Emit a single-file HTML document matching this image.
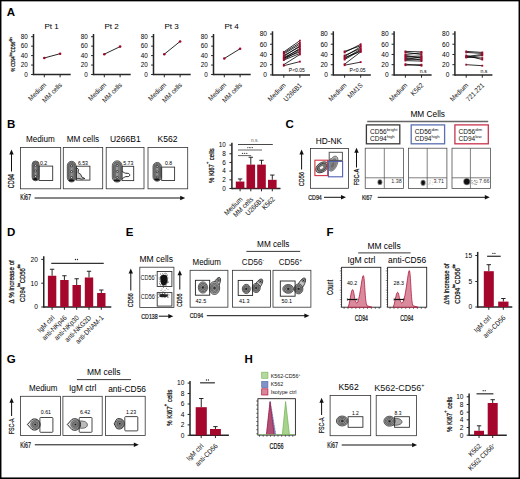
<!DOCTYPE html><html><head><meta charset="utf-8"><style>html,body{margin:0;padding:0;background:#fff;}svg{display:block;} .hv{stroke:#111;stroke-width:0.22px;} .md{stroke:#111;stroke-width:0.25px;}text{font-family:"Liberation Sans", sans-serif;}</style></head><body>
<svg width="520" height="479" viewBox="0 0 520 479">
<rect x="0" y="0" width="520" height="479" fill="#fff"/>
<text x="6.8" y="15.8" font-size="11.5" font-weight="bold" fill="#000">A</text>
<text x="51.6" y="29.1" font-size="8.1" text-anchor="middle">Pt 1</text>
<line x1="33.5" y1="34" x2="33.5" y2="75.25" stroke="#262626" stroke-width="1.5" />
<line x1="31.1" y1="36.7" x2="33.5" y2="36.7" stroke="#262626" stroke-width="1" />
<text x="27.8" y="39" font-size="6.4" text-anchor="end">80</text>
<line x1="31.1" y1="46.15" x2="33.5" y2="46.15" stroke="#262626" stroke-width="1" />
<text x="27.8" y="48.45" font-size="6.4" text-anchor="end">60</text>
<line x1="31.1" y1="55.6" x2="33.5" y2="55.6" stroke="#262626" stroke-width="1" />
<text x="27.8" y="57.9" font-size="6.4" text-anchor="end">40</text>
<line x1="31.1" y1="65.05" x2="33.5" y2="65.05" stroke="#262626" stroke-width="1" />
<text x="27.8" y="67.35" font-size="6.4" text-anchor="end">20</text>
<line x1="31.1" y1="74.5" x2="33.5" y2="74.5" stroke="#262626" stroke-width="1" />
<text x="27.8" y="76.8" font-size="6.4" text-anchor="end">0</text>
<line x1="33.5" y1="74.5" x2="70.7" y2="74.5" stroke="#262626" stroke-width="1.5" />
<line x1="44.3" y1="74.5" x2="44.3" y2="77.3" stroke="#262626" stroke-width="1" />
<line x1="60.1" y1="74.5" x2="60.1" y2="77.3" stroke="#262626" stroke-width="1" />
<line x1="44.3" y1="57.96" x2="60.1" y2="53.71" stroke="#111" stroke-width="0.9" />
<circle cx="44.3" cy="57.96" r="1.3" fill="#a5062b"/>
<circle cx="60.1" cy="53.71" r="1.3" fill="#a5062b"/>
<text transform="translate(46.7 85.5) rotate(-45) scale(0.9 1)" font-size="6.96" text-anchor="end" fill="#111">Medium</text>
<text transform="translate(62.5 85.5) rotate(-45) scale(0.9 1)" font-size="6.96" text-anchor="end" fill="#111">MM cells</text>
<text x="111.6" y="29.1" font-size="8.1" text-anchor="middle">Pt 2</text>
<line x1="93.5" y1="34" x2="93.5" y2="75.25" stroke="#262626" stroke-width="1.5" />
<line x1="91.1" y1="36.7" x2="93.5" y2="36.7" stroke="#262626" stroke-width="1" />
<text x="87.8" y="39" font-size="6.4" text-anchor="end">80</text>
<line x1="91.1" y1="46.15" x2="93.5" y2="46.15" stroke="#262626" stroke-width="1" />
<text x="87.8" y="48.45" font-size="6.4" text-anchor="end">60</text>
<line x1="91.1" y1="55.6" x2="93.5" y2="55.6" stroke="#262626" stroke-width="1" />
<text x="87.8" y="57.9" font-size="6.4" text-anchor="end">40</text>
<line x1="91.1" y1="65.05" x2="93.5" y2="65.05" stroke="#262626" stroke-width="1" />
<text x="87.8" y="67.35" font-size="6.4" text-anchor="end">20</text>
<line x1="91.1" y1="74.5" x2="93.5" y2="74.5" stroke="#262626" stroke-width="1" />
<text x="87.8" y="76.8" font-size="6.4" text-anchor="end">0</text>
<line x1="93.5" y1="74.5" x2="130.7" y2="74.5" stroke="#262626" stroke-width="1.5" />
<line x1="104.3" y1="74.5" x2="104.3" y2="77.3" stroke="#262626" stroke-width="1" />
<line x1="120.1" y1="74.5" x2="120.1" y2="77.3" stroke="#262626" stroke-width="1" />
<line x1="104.3" y1="54.18" x2="120.1" y2="46.62" stroke="#111" stroke-width="0.9" />
<circle cx="104.3" cy="54.18" r="1.3" fill="#a5062b"/>
<circle cx="120.1" cy="46.62" r="1.3" fill="#a5062b"/>
<text transform="translate(106.7 85.5) rotate(-45) scale(0.9 1)" font-size="6.96" text-anchor="end" fill="#111">Medium</text>
<text transform="translate(122.5 85.5) rotate(-45) scale(0.9 1)" font-size="6.96" text-anchor="end" fill="#111">MM cells</text>
<text x="171.6" y="29.1" font-size="8.1" text-anchor="middle">Pt 3</text>
<line x1="153.5" y1="34" x2="153.5" y2="75.25" stroke="#262626" stroke-width="1.5" />
<line x1="151.1" y1="36.7" x2="153.5" y2="36.7" stroke="#262626" stroke-width="1" />
<text x="147.8" y="39" font-size="6.4" text-anchor="end">80</text>
<line x1="151.1" y1="46.15" x2="153.5" y2="46.15" stroke="#262626" stroke-width="1" />
<text x="147.8" y="48.45" font-size="6.4" text-anchor="end">60</text>
<line x1="151.1" y1="55.6" x2="153.5" y2="55.6" stroke="#262626" stroke-width="1" />
<text x="147.8" y="57.9" font-size="6.4" text-anchor="end">40</text>
<line x1="151.1" y1="65.05" x2="153.5" y2="65.05" stroke="#262626" stroke-width="1" />
<text x="147.8" y="67.35" font-size="6.4" text-anchor="end">20</text>
<line x1="151.1" y1="74.5" x2="153.5" y2="74.5" stroke="#262626" stroke-width="1" />
<text x="147.8" y="76.8" font-size="6.4" text-anchor="end">0</text>
<line x1="153.5" y1="74.5" x2="190.7" y2="74.5" stroke="#262626" stroke-width="1.5" />
<line x1="164.3" y1="74.5" x2="164.3" y2="77.3" stroke="#262626" stroke-width="1" />
<line x1="180.1" y1="74.5" x2="180.1" y2="77.3" stroke="#262626" stroke-width="1" />
<line x1="164.3" y1="54.18" x2="180.1" y2="41.43" stroke="#111" stroke-width="0.9" />
<circle cx="164.3" cy="54.18" r="1.3" fill="#a5062b"/>
<circle cx="180.1" cy="41.43" r="1.3" fill="#a5062b"/>
<text transform="translate(166.7 85.5) rotate(-45) scale(0.9 1)" font-size="6.96" text-anchor="end" fill="#111">Medium</text>
<text transform="translate(182.5 85.5) rotate(-45) scale(0.9 1)" font-size="6.96" text-anchor="end" fill="#111">MM cells</text>
<text x="231.6" y="29.1" font-size="8.1" text-anchor="middle">Pt 4</text>
<line x1="213.5" y1="34" x2="213.5" y2="75.25" stroke="#262626" stroke-width="1.5" />
<line x1="211.1" y1="36.7" x2="213.5" y2="36.7" stroke="#262626" stroke-width="1" />
<text x="207.8" y="39" font-size="6.4" text-anchor="end">80</text>
<line x1="211.1" y1="46.15" x2="213.5" y2="46.15" stroke="#262626" stroke-width="1" />
<text x="207.8" y="48.45" font-size="6.4" text-anchor="end">60</text>
<line x1="211.1" y1="55.6" x2="213.5" y2="55.6" stroke="#262626" stroke-width="1" />
<text x="207.8" y="57.9" font-size="6.4" text-anchor="end">40</text>
<line x1="211.1" y1="65.05" x2="213.5" y2="65.05" stroke="#262626" stroke-width="1" />
<text x="207.8" y="67.35" font-size="6.4" text-anchor="end">20</text>
<line x1="211.1" y1="74.5" x2="213.5" y2="74.5" stroke="#262626" stroke-width="1" />
<text x="207.8" y="76.8" font-size="6.4" text-anchor="end">0</text>
<line x1="213.5" y1="74.5" x2="250.7" y2="74.5" stroke="#262626" stroke-width="1.5" />
<line x1="224.3" y1="74.5" x2="224.3" y2="77.3" stroke="#262626" stroke-width="1" />
<line x1="240.1" y1="74.5" x2="240.1" y2="77.3" stroke="#262626" stroke-width="1" />
<line x1="224.3" y1="58.44" x2="240.1" y2="48.75" stroke="#111" stroke-width="0.9" />
<circle cx="224.3" cy="58.44" r="1.3" fill="#a5062b"/>
<circle cx="240.1" cy="48.75" r="1.3" fill="#a5062b"/>
<text transform="translate(226.7 85.5) rotate(-45) scale(0.9 1)" font-size="6.96" text-anchor="end" fill="#111">Medium</text>
<text transform="translate(242.5 85.5) rotate(-45) scale(0.9 1)" font-size="6.96" text-anchor="end" fill="#111">MM cells</text>
<text transform="translate(15.1 71.6) rotate(-90) scale(0.7 1)" font-size="5.9" fill="#111" class="md">% CD94<tspan font-size="3.9" baseline-shift="3.9">low</tspan>CD56<tspan font-size="3.9" baseline-shift="3.9">dim</tspan></text>
<line x1="272.5" y1="31.3" x2="272.5" y2="75.65" stroke="#262626" stroke-width="1.5" />
<line x1="270" y1="34.02" x2="272.5" y2="34.02" stroke="#262626" stroke-width="1" />
<text x="267" y="36.4" font-size="6.6" text-anchor="end">80</text>
<line x1="270" y1="44.24" x2="272.5" y2="44.24" stroke="#262626" stroke-width="1" />
<text x="267" y="46.62" font-size="6.6" text-anchor="end">60</text>
<line x1="270" y1="54.46" x2="272.5" y2="54.46" stroke="#262626" stroke-width="1" />
<text x="267" y="56.84" font-size="6.6" text-anchor="end">40</text>
<line x1="270" y1="64.68" x2="272.5" y2="64.68" stroke="#262626" stroke-width="1" />
<text x="267" y="67.06" font-size="6.6" text-anchor="end">20</text>
<line x1="270" y1="74.9" x2="272.5" y2="74.9" stroke="#262626" stroke-width="1" />
<text x="267" y="77.28" font-size="6.6" text-anchor="end">0</text>
<line x1="272.5" y1="74.9" x2="310" y2="74.9" stroke="#262626" stroke-width="1.5" />
<line x1="283.8" y1="74.9" x2="283.8" y2="77.7" stroke="#262626" stroke-width="1" />
<line x1="299.9" y1="74.9" x2="299.9" y2="77.7" stroke="#262626" stroke-width="1" />
<line x1="283.8" y1="51.91" x2="299.9" y2="40.66" stroke="#000" stroke-width="0.8" />
<line x1="283.8" y1="52.93" x2="299.9" y2="42.71" stroke="#000" stroke-width="0.8" />
<line x1="283.8" y1="53.95" x2="299.9" y2="44.24" stroke="#000" stroke-width="0.8" />
<line x1="283.8" y1="55.48" x2="299.9" y2="46.8" stroke="#000" stroke-width="0.8" />
<line x1="283.8" y1="56.5" x2="299.9" y2="45.77" stroke="#000" stroke-width="0.8" />
<line x1="283.8" y1="57.53" x2="299.9" y2="49.35" stroke="#000" stroke-width="0.8" />
<line x1="283.8" y1="58.55" x2="299.9" y2="48.33" stroke="#000" stroke-width="0.8" />
<line x1="283.8" y1="59.57" x2="299.9" y2="50.37" stroke="#000" stroke-width="0.8" />
<line x1="283.8" y1="60.08" x2="299.9" y2="53.44" stroke="#000" stroke-width="0.8" />
<line x1="283.8" y1="58.04" x2="299.9" y2="51.91" stroke="#000" stroke-width="0.8" />
<line x1="283.8" y1="64.68" x2="299.9" y2="54.46" stroke="#000" stroke-width="0.8" />
<line x1="283.8" y1="65.7" x2="299.9" y2="61.61" stroke="#000" stroke-width="0.8" />
<rect x="282.9" y="51.01" width="1.8" height="1.8" fill="#a5062b" />
<rect x="299" y="39.76" width="1.8" height="1.8" fill="#a5062b" />
<rect x="282.9" y="52.03" width="1.8" height="1.8" fill="#a5062b" />
<rect x="299" y="41.81" width="1.8" height="1.8" fill="#a5062b" />
<rect x="282.9" y="53.05" width="1.8" height="1.8" fill="#a5062b" />
<rect x="299" y="43.34" width="1.8" height="1.8" fill="#a5062b" />
<rect x="282.9" y="54.58" width="1.8" height="1.8" fill="#a5062b" />
<rect x="299" y="45.9" width="1.8" height="1.8" fill="#a5062b" />
<rect x="282.9" y="55.6" width="1.8" height="1.8" fill="#a5062b" />
<rect x="299" y="44.87" width="1.8" height="1.8" fill="#a5062b" />
<rect x="282.9" y="56.63" width="1.8" height="1.8" fill="#a5062b" />
<rect x="299" y="48.45" width="1.8" height="1.8" fill="#a5062b" />
<rect x="282.9" y="57.65" width="1.8" height="1.8" fill="#a5062b" />
<rect x="299" y="47.43" width="1.8" height="1.8" fill="#a5062b" />
<rect x="282.9" y="58.67" width="1.8" height="1.8" fill="#a5062b" />
<rect x="299" y="49.47" width="1.8" height="1.8" fill="#a5062b" />
<rect x="282.9" y="59.18" width="1.8" height="1.8" fill="#a5062b" />
<rect x="299" y="52.54" width="1.8" height="1.8" fill="#a5062b" />
<rect x="282.9" y="57.14" width="1.8" height="1.8" fill="#a5062b" />
<rect x="299" y="51.01" width="1.8" height="1.8" fill="#a5062b" />
<rect x="282.9" y="63.78" width="1.8" height="1.8" fill="#a5062b" />
<rect x="299" y="53.56" width="1.8" height="1.8" fill="#a5062b" />
<rect x="282.9" y="64.8" width="1.8" height="1.8" fill="#a5062b" />
<rect x="299" y="60.71" width="1.8" height="1.8" fill="#a5062b" />
<text x="288.8" y="71.6" font-size="5.2" textLength="16" lengthAdjust="spacingAndGlyphs">P&lt;0.05</text>
<text transform="translate(286.2 85.9) rotate(-45) scale(0.9 1)" font-size="6.96" text-anchor="end" fill="#111">Medium</text>
<text transform="translate(302.3 85.9) rotate(-45) scale(0.9 1)" font-size="6.96" text-anchor="end" fill="#111">U266B1</text>
<line x1="333.3" y1="31.3" x2="333.3" y2="75.65" stroke="#262626" stroke-width="1.5" />
<line x1="330.8" y1="34.02" x2="333.3" y2="34.02" stroke="#262626" stroke-width="1" />
<text x="327.8" y="36.4" font-size="6.6" text-anchor="end">80</text>
<line x1="330.8" y1="44.24" x2="333.3" y2="44.24" stroke="#262626" stroke-width="1" />
<text x="327.8" y="46.62" font-size="6.6" text-anchor="end">60</text>
<line x1="330.8" y1="54.46" x2="333.3" y2="54.46" stroke="#262626" stroke-width="1" />
<text x="327.8" y="56.84" font-size="6.6" text-anchor="end">40</text>
<line x1="330.8" y1="64.68" x2="333.3" y2="64.68" stroke="#262626" stroke-width="1" />
<text x="327.8" y="67.06" font-size="6.6" text-anchor="end">20</text>
<line x1="330.8" y1="74.9" x2="333.3" y2="74.9" stroke="#262626" stroke-width="1" />
<text x="327.8" y="77.28" font-size="6.6" text-anchor="end">0</text>
<line x1="333.3" y1="74.9" x2="370.8" y2="74.9" stroke="#262626" stroke-width="1.5" />
<line x1="344.6" y1="74.9" x2="344.6" y2="77.7" stroke="#262626" stroke-width="1" />
<line x1="360.7" y1="74.9" x2="360.7" y2="77.7" stroke="#262626" stroke-width="1" />
<line x1="344.6" y1="51.39" x2="360.7" y2="45.77" stroke="#000" stroke-width="0.8" />
<line x1="344.6" y1="52.42" x2="360.7" y2="44.24" stroke="#000" stroke-width="0.8" />
<line x1="344.6" y1="55.48" x2="360.7" y2="48.33" stroke="#000" stroke-width="0.8" />
<line x1="344.6" y1="56.5" x2="360.7" y2="46.8" stroke="#000" stroke-width="0.8" />
<line x1="344.6" y1="57.53" x2="360.7" y2="51.39" stroke="#000" stroke-width="0.8" />
<line x1="344.6" y1="58.55" x2="360.7" y2="49.35" stroke="#000" stroke-width="0.8" />
<line x1="344.6" y1="59.57" x2="360.7" y2="50.37" stroke="#000" stroke-width="0.8" />
<line x1="344.6" y1="64.17" x2="360.7" y2="51.91" stroke="#000" stroke-width="0.8" />
<line x1="344.6" y1="65.19" x2="360.7" y2="62.13" stroke="#000" stroke-width="0.8" />
<rect x="343.7" y="50.49" width="1.8" height="1.8" fill="#a5062b" />
<rect x="359.8" y="44.87" width="1.8" height="1.8" fill="#a5062b" />
<rect x="343.7" y="51.52" width="1.8" height="1.8" fill="#a5062b" />
<rect x="359.8" y="43.34" width="1.8" height="1.8" fill="#a5062b" />
<rect x="343.7" y="54.58" width="1.8" height="1.8" fill="#a5062b" />
<rect x="359.8" y="47.43" width="1.8" height="1.8" fill="#a5062b" />
<rect x="343.7" y="55.6" width="1.8" height="1.8" fill="#a5062b" />
<rect x="359.8" y="45.9" width="1.8" height="1.8" fill="#a5062b" />
<rect x="343.7" y="56.63" width="1.8" height="1.8" fill="#a5062b" />
<rect x="359.8" y="50.49" width="1.8" height="1.8" fill="#a5062b" />
<rect x="343.7" y="57.65" width="1.8" height="1.8" fill="#a5062b" />
<rect x="359.8" y="48.45" width="1.8" height="1.8" fill="#a5062b" />
<rect x="343.7" y="58.67" width="1.8" height="1.8" fill="#a5062b" />
<rect x="359.8" y="49.47" width="1.8" height="1.8" fill="#a5062b" />
<rect x="343.7" y="63.27" width="1.8" height="1.8" fill="#a5062b" />
<rect x="359.8" y="51.01" width="1.8" height="1.8" fill="#a5062b" />
<rect x="343.7" y="64.29" width="1.8" height="1.8" fill="#a5062b" />
<rect x="359.8" y="61.23" width="1.8" height="1.8" fill="#a5062b" />
<text x="349.6" y="71.6" font-size="5.2" textLength="16" lengthAdjust="spacingAndGlyphs">P&lt;0.05</text>
<text transform="translate(347 85.9) rotate(-45) scale(0.9 1)" font-size="6.96" text-anchor="end" fill="#111">Medium</text>
<text transform="translate(363.1 85.9) rotate(-45) scale(0.9 1)" font-size="6.96" text-anchor="end" fill="#111">MM1S</text>
<line x1="394.1" y1="31.3" x2="394.1" y2="75.65" stroke="#262626" stroke-width="1.5" />
<line x1="391.6" y1="34.02" x2="394.1" y2="34.02" stroke="#262626" stroke-width="1" />
<text x="388.6" y="36.4" font-size="6.6" text-anchor="end">80</text>
<line x1="391.6" y1="44.24" x2="394.1" y2="44.24" stroke="#262626" stroke-width="1" />
<text x="388.6" y="46.62" font-size="6.6" text-anchor="end">60</text>
<line x1="391.6" y1="54.46" x2="394.1" y2="54.46" stroke="#262626" stroke-width="1" />
<text x="388.6" y="56.84" font-size="6.6" text-anchor="end">40</text>
<line x1="391.6" y1="64.68" x2="394.1" y2="64.68" stroke="#262626" stroke-width="1" />
<text x="388.6" y="67.06" font-size="6.6" text-anchor="end">20</text>
<line x1="391.6" y1="74.9" x2="394.1" y2="74.9" stroke="#262626" stroke-width="1" />
<text x="388.6" y="77.28" font-size="6.6" text-anchor="end">0</text>
<line x1="394.1" y1="74.9" x2="431.6" y2="74.9" stroke="#262626" stroke-width="1.5" />
<line x1="405.4" y1="74.9" x2="405.4" y2="77.7" stroke="#262626" stroke-width="1" />
<line x1="421.5" y1="74.9" x2="421.5" y2="77.7" stroke="#262626" stroke-width="1" />
<line x1="405.4" y1="51.39" x2="421.5" y2="51.91" stroke="#000" stroke-width="0.8" />
<line x1="405.4" y1="52.42" x2="421.5" y2="54.46" stroke="#000" stroke-width="0.8" />
<line x1="405.4" y1="54.46" x2="421.5" y2="52.93" stroke="#000" stroke-width="0.8" />
<line x1="405.4" y1="55.48" x2="421.5" y2="58.04" stroke="#000" stroke-width="0.8" />
<line x1="405.4" y1="56.5" x2="421.5" y2="55.99" stroke="#000" stroke-width="0.8" />
<line x1="405.4" y1="57.53" x2="421.5" y2="60.08" stroke="#000" stroke-width="0.8" />
<line x1="405.4" y1="58.55" x2="421.5" y2="57.02" stroke="#000" stroke-width="0.8" />
<line x1="405.4" y1="59.57" x2="421.5" y2="59.06" stroke="#000" stroke-width="0.8" />
<line x1="405.4" y1="60.59" x2="421.5" y2="61.1" stroke="#000" stroke-width="0.8" />
<line x1="405.4" y1="64.17" x2="421.5" y2="65.7" stroke="#000" stroke-width="0.8" />
<line x1="405.4" y1="65.19" x2="421.5" y2="64.68" stroke="#000" stroke-width="0.8" />
<rect x="404.5" y="50.49" width="1.8" height="1.8" fill="#a5062b" />
<rect x="420.6" y="51.01" width="1.8" height="1.8" fill="#a5062b" />
<rect x="404.5" y="51.52" width="1.8" height="1.8" fill="#a5062b" />
<rect x="420.6" y="53.56" width="1.8" height="1.8" fill="#a5062b" />
<rect x="404.5" y="53.56" width="1.8" height="1.8" fill="#a5062b" />
<rect x="420.6" y="52.03" width="1.8" height="1.8" fill="#a5062b" />
<rect x="404.5" y="54.58" width="1.8" height="1.8" fill="#a5062b" />
<rect x="420.6" y="57.14" width="1.8" height="1.8" fill="#a5062b" />
<rect x="404.5" y="55.6" width="1.8" height="1.8" fill="#a5062b" />
<rect x="420.6" y="55.09" width="1.8" height="1.8" fill="#a5062b" />
<rect x="404.5" y="56.63" width="1.8" height="1.8" fill="#a5062b" />
<rect x="420.6" y="59.18" width="1.8" height="1.8" fill="#a5062b" />
<rect x="404.5" y="57.65" width="1.8" height="1.8" fill="#a5062b" />
<rect x="420.6" y="56.12" width="1.8" height="1.8" fill="#a5062b" />
<rect x="404.5" y="58.67" width="1.8" height="1.8" fill="#a5062b" />
<rect x="420.6" y="58.16" width="1.8" height="1.8" fill="#a5062b" />
<rect x="404.5" y="59.69" width="1.8" height="1.8" fill="#a5062b" />
<rect x="420.6" y="60.2" width="1.8" height="1.8" fill="#a5062b" />
<rect x="404.5" y="63.27" width="1.8" height="1.8" fill="#a5062b" />
<rect x="420.6" y="64.8" width="1.8" height="1.8" fill="#a5062b" />
<rect x="404.5" y="64.29" width="1.8" height="1.8" fill="#a5062b" />
<rect x="420.6" y="63.78" width="1.8" height="1.8" fill="#a5062b" />
<text x="419.7" y="72.6" font-size="5.2">n.s</text>
<text transform="translate(407.8 85.9) rotate(-45) scale(0.9 1)" font-size="6.96" text-anchor="end" fill="#111">Medium</text>
<text transform="translate(423.9 85.9) rotate(-45) scale(0.9 1)" font-size="6.96" text-anchor="end" fill="#111">K562</text>
<line x1="454.9" y1="31.3" x2="454.9" y2="75.65" stroke="#262626" stroke-width="1.5" />
<line x1="452.4" y1="34.02" x2="454.9" y2="34.02" stroke="#262626" stroke-width="1" />
<text x="449.4" y="36.4" font-size="6.6" text-anchor="end">80</text>
<line x1="452.4" y1="44.24" x2="454.9" y2="44.24" stroke="#262626" stroke-width="1" />
<text x="449.4" y="46.62" font-size="6.6" text-anchor="end">60</text>
<line x1="452.4" y1="54.46" x2="454.9" y2="54.46" stroke="#262626" stroke-width="1" />
<text x="449.4" y="56.84" font-size="6.6" text-anchor="end">40</text>
<line x1="452.4" y1="64.68" x2="454.9" y2="64.68" stroke="#262626" stroke-width="1" />
<text x="449.4" y="67.06" font-size="6.6" text-anchor="end">20</text>
<line x1="452.4" y1="74.9" x2="454.9" y2="74.9" stroke="#262626" stroke-width="1" />
<text x="449.4" y="77.28" font-size="6.6" text-anchor="end">0</text>
<line x1="454.9" y1="74.9" x2="492.4" y2="74.9" stroke="#262626" stroke-width="1.5" />
<line x1="466.2" y1="74.9" x2="466.2" y2="77.7" stroke="#262626" stroke-width="1" />
<line x1="482.3" y1="74.9" x2="482.3" y2="77.7" stroke="#262626" stroke-width="1" />
<line x1="466.2" y1="51.39" x2="482.3" y2="52.42" stroke="#000" stroke-width="0.8" />
<line x1="466.2" y1="52.42" x2="482.3" y2="53.44" stroke="#000" stroke-width="0.8" />
<line x1="466.2" y1="55.48" x2="482.3" y2="59.57" stroke="#000" stroke-width="0.8" />
<line x1="466.2" y1="56.5" x2="482.3" y2="54.46" stroke="#000" stroke-width="0.8" />
<line x1="466.2" y1="57.53" x2="482.3" y2="55.48" stroke="#000" stroke-width="0.8" />
<line x1="466.2" y1="57.02" x2="482.3" y2="58.04" stroke="#000" stroke-width="0.8" />
<line x1="466.2" y1="64.68" x2="482.3" y2="65.7" stroke="#000" stroke-width="0.8" />
<rect x="465.3" y="50.49" width="1.8" height="1.8" fill="#a5062b" />
<rect x="481.4" y="51.52" width="1.8" height="1.8" fill="#a5062b" />
<rect x="465.3" y="51.52" width="1.8" height="1.8" fill="#a5062b" />
<rect x="481.4" y="52.54" width="1.8" height="1.8" fill="#a5062b" />
<rect x="465.3" y="54.58" width="1.8" height="1.8" fill="#a5062b" />
<rect x="481.4" y="58.67" width="1.8" height="1.8" fill="#a5062b" />
<rect x="465.3" y="55.6" width="1.8" height="1.8" fill="#a5062b" />
<rect x="481.4" y="53.56" width="1.8" height="1.8" fill="#a5062b" />
<rect x="465.3" y="56.63" width="1.8" height="1.8" fill="#a5062b" />
<rect x="481.4" y="54.58" width="1.8" height="1.8" fill="#a5062b" />
<rect x="465.3" y="56.12" width="1.8" height="1.8" fill="#a5062b" />
<rect x="481.4" y="57.14" width="1.8" height="1.8" fill="#a5062b" />
<rect x="465.3" y="63.78" width="1.8" height="1.8" fill="#a5062b" />
<rect x="481.4" y="64.8" width="1.8" height="1.8" fill="#a5062b" />
<text x="480.5" y="72.6" font-size="5.2">n.s</text>
<text transform="translate(468.6 85.9) rotate(-45) scale(0.9 1)" font-size="6.96" text-anchor="end" fill="#111">Medium</text>
<text transform="translate(484.7 85.9) rotate(-45) scale(0.9 1)" font-size="6.96" text-anchor="end" fill="#111">721.221</text>
<text x="7" y="128.15" font-size="11.5" font-weight="bold" fill="#000">B</text>
<text x="26" y="141.5" font-size="8.5" textLength="28.8" lengthAdjust="spacingAndGlyphs">Medium</text>
<text x="66.8" y="141.5" font-size="8.5" textLength="32.3" lengthAdjust="spacingAndGlyphs">MM cells</text>
<text x="110" y="141.5" font-size="8.5" textLength="30.6" lengthAdjust="spacingAndGlyphs">U266B1</text>
<text x="157.6" y="141.5" font-size="8.5" textLength="20" lengthAdjust="spacingAndGlyphs">K562</text>
<rect x="20.5" y="147.5" width="40.2" height="41.3" fill="none" stroke="#333" stroke-width="0.8" />
<rect x="32.1" y="161" width="7" height="19.8" rx="3.5" fill="#c8c8c8" stroke="#222" stroke-width="0.7"/>
<rect x="32.87" y="161.85" width="5.46" height="18.11" rx="2.73" fill="#a8a8a8" stroke="#222" stroke-width="0.6"/>
<rect x="33.64" y="162.69" width="3.92" height="16.41" rx="1.96" fill="#d0d0d0" stroke="#222" stroke-width="0.55"/>
<rect x="34.34" y="163.46" width="2.52" height="14.87" rx="1.26" fill="#9a9a9a" stroke="#222" stroke-width="0.5"/>
<circle cx="35.6" cy="165.36" r="1.0" fill="#eee" stroke="#111" stroke-width="0.7"/>
<circle cx="35.6" cy="170.9" r="1.0" fill="#eee" stroke="#111" stroke-width="0.7"/>
<circle cx="35.6" cy="176.44" r="1.0" fill="#eee" stroke="#111" stroke-width="0.7"/>
<ellipse cx="35.3" cy="179.2" rx="2.24" ry="1.1" fill="#111"/>
<rect x="39.1" y="166.1" width="13.6" height="14.4" fill="none" stroke="#333" stroke-width="0.9" />
<text x="39.9" y="165.2" font-size="5.7" textLength="7.2" lengthAdjust="spacingAndGlyphs">0.2</text>
<rect x="63.3" y="147.5" width="39.4" height="41.3" fill="none" stroke="#333" stroke-width="0.8" />
<rect x="67.3" y="161.3" width="8.6" height="20.7" rx="4.3" fill="#c8c8c8" stroke="#222" stroke-width="0.7"/>
<rect x="68.25" y="162.34" width="6.71" height="18.62" rx="3.35" fill="#a8a8a8" stroke="#222" stroke-width="0.6"/>
<rect x="69.19" y="163.38" width="4.82" height="16.54" rx="2.41" fill="#d0d0d0" stroke="#222" stroke-width="0.55"/>
<rect x="70.05" y="164.33" width="3.1" height="14.65" rx="1.55" fill="#9a9a9a" stroke="#222" stroke-width="0.5"/>
<circle cx="71.6" cy="165.85" r="1.0" fill="#eee" stroke="#111" stroke-width="0.7"/>
<circle cx="71.6" cy="171.65" r="1.0" fill="#eee" stroke="#111" stroke-width="0.7"/>
<circle cx="71.6" cy="177.45" r="1.0" fill="#eee" stroke="#111" stroke-width="0.7"/>
<ellipse cx="71.3" cy="180.4" rx="2.75" ry="1.1" fill="#111"/>
<path d="M76.4 167.5 L78.6 169.5 L78 172.5 L80.9 174.5 L81.6 176.8 L84.9 178.6 L81.4 179.2 L77.9 178.2 L76.4 179.6 Z" fill="#c8c8c8" stroke="#111" stroke-width="0.8"/>
<rect x="76.4" y="166.2" width="13.5" height="13.9" fill="none" stroke="#333" stroke-width="0.9" />
<text x="77.9" y="165.2" font-size="5.7" textLength="10.1" lengthAdjust="spacingAndGlyphs">6.53</text>
<rect x="106.2" y="147.5" width="37.8" height="41.3" fill="none" stroke="#333" stroke-width="0.8" />
<rect x="112.3" y="160.8" width="9.8" height="21.3" rx="4.9" fill="#c8c8c8" stroke="#222" stroke-width="0.7"/>
<rect x="113.38" y="161.99" width="7.64" height="18.93" rx="3.82" fill="#a8a8a8" stroke="#222" stroke-width="0.6"/>
<rect x="114.46" y="163.17" width="5.49" height="16.56" rx="2.74" fill="#d0d0d0" stroke="#222" stroke-width="0.55"/>
<rect x="115.44" y="164.25" width="3.53" height="14.4" rx="1.76" fill="#9a9a9a" stroke="#222" stroke-width="0.5"/>
<circle cx="117.2" cy="165.49" r="1.0" fill="#eee" stroke="#111" stroke-width="0.7"/>
<circle cx="117.2" cy="171.45" r="1.0" fill="#eee" stroke="#111" stroke-width="0.7"/>
<circle cx="117.2" cy="177.41" r="1.0" fill="#eee" stroke="#111" stroke-width="0.7"/>
<ellipse cx="116.9" cy="180.5" rx="3.14" ry="1.1" fill="#111"/>
<path d="M122.1 171.5 C124.1 172.5 125.1 173.5 127.1 173.3 C130.6 173 130.6 177.2 127.1 176.6 C125.1 176.3 124.1 177.6 122.1 178.6" fill="#fff" stroke="#111" stroke-width="0.9"/>
<rect x="122.1" y="166.3" width="11.6" height="14.3" fill="none" stroke="#333" stroke-width="0.9" />
<text x="123.3" y="165.2" font-size="5.7" textLength="10.1" lengthAdjust="spacingAndGlyphs">5.73</text>
<rect x="148" y="147.5" width="39.7" height="41.3" fill="none" stroke="#333" stroke-width="0.8" />
<rect x="153" y="162.4" width="8.4" height="18.8" rx="4.2" fill="#c8c8c8" stroke="#222" stroke-width="0.7"/>
<rect x="153.92" y="163.42" width="6.55" height="16.77" rx="3.28" fill="#a8a8a8" stroke="#222" stroke-width="0.6"/>
<rect x="154.85" y="164.43" width="4.7" height="14.73" rx="2.35" fill="#d0d0d0" stroke="#222" stroke-width="0.55"/>
<rect x="155.69" y="165.36" width="3.02" height="12.89" rx="1.51" fill="#9a9a9a" stroke="#222" stroke-width="0.5"/>
<circle cx="157.2" cy="166.54" r="1.0" fill="#eee" stroke="#111" stroke-width="0.7"/>
<circle cx="157.2" cy="171.8" r="1.0" fill="#eee" stroke="#111" stroke-width="0.7"/>
<circle cx="157.2" cy="177.06" r="1.0" fill="#eee" stroke="#111" stroke-width="0.7"/>
<ellipse cx="156.9" cy="179.6" rx="2.69" ry="1.1" fill="#111"/>
<rect x="161.7" y="167.1" width="12.9" height="13.4" fill="none" stroke="#333" stroke-width="0.9" />
<text x="165" y="165.2" font-size="5.7" textLength="7.2" lengthAdjust="spacingAndGlyphs">0.8</text>
<line x1="11.5" y1="152.4" x2="11.5" y2="171.5" stroke="#111" stroke-width="1" />
<path d="M11.5 149.4 L9.3 154.4 L13.7 154.4 Z" fill="#111"/>
<text transform="translate(14.3 188.3) rotate(-90) scale(0.66 1)" font-size="8.4" fill="#111" class="hv">CD94</text>
<text transform="translate(20.3 200.4) scale(0.64 1)" font-size="8.4" fill="#111" class="hv">Ki67</text>
<line x1="34.6" y1="198" x2="182.2" y2="198" stroke="#111" stroke-width="1" />
<path d="M185.2 198 L180.2 195.8 L180.2 200.2 Z" fill="#111"/>
<line x1="231.9" y1="142.8" x2="231.9" y2="189.25" stroke="#262626" stroke-width="1.5" />
<line x1="229.4" y1="145.1" x2="231.9" y2="145.1" stroke="#262626" stroke-width="1" />
<text x="225.8" y="147.4" font-size="6.4" text-anchor="end">10</text>
<line x1="229.4" y1="153.78" x2="231.9" y2="153.78" stroke="#262626" stroke-width="1" />
<text x="225.8" y="156.08" font-size="6.4" text-anchor="end">8</text>
<line x1="229.4" y1="162.46" x2="231.9" y2="162.46" stroke="#262626" stroke-width="1" />
<text x="225.8" y="164.76" font-size="6.4" text-anchor="end">6</text>
<line x1="229.4" y1="171.14" x2="231.9" y2="171.14" stroke="#262626" stroke-width="1" />
<text x="225.8" y="173.44" font-size="6.4" text-anchor="end">4</text>
<line x1="229.4" y1="179.82" x2="231.9" y2="179.82" stroke="#262626" stroke-width="1" />
<text x="225.8" y="182.12" font-size="6.4" text-anchor="end">2</text>
<line x1="229.4" y1="188.5" x2="231.9" y2="188.5" stroke="#262626" stroke-width="1" />
<text x="225.8" y="190.8" font-size="6.4" text-anchor="end">0</text>
<line x1="231.9" y1="188.5" x2="280.5" y2="188.5" stroke="#262626" stroke-width="1.5" />
<line x1="240.1" y1="188.5" x2="240.1" y2="191.3" stroke="#262626" stroke-width="1" />
<line x1="250.8" y1="188.5" x2="250.8" y2="191.3" stroke="#262626" stroke-width="1" />
<line x1="261.5" y1="188.5" x2="261.5" y2="191.3" stroke="#262626" stroke-width="1" />
<line x1="272.3" y1="188.5" x2="272.3" y2="191.3" stroke="#262626" stroke-width="1" />
<line x1="240.1" y1="181.56" x2="240.1" y2="178.95" stroke="#111" stroke-width="0.9" />
<line x1="237.9" y1="178.95" x2="242.3" y2="178.95" stroke="#111" stroke-width="0.9" />
<rect x="235.8" y="181.56" width="8.6" height="6.94" fill="#a5062b" />
<line x1="250.8" y1="164.63" x2="250.8" y2="157.25" stroke="#111" stroke-width="0.9" />
<line x1="248.6" y1="157.25" x2="253" y2="157.25" stroke="#111" stroke-width="0.9" />
<rect x="246.5" y="164.63" width="8.6" height="23.87" fill="#a5062b" />
<line x1="261.5" y1="164.63" x2="261.5" y2="160.29" stroke="#111" stroke-width="0.9" />
<line x1="259.3" y1="160.29" x2="263.7" y2="160.29" stroke="#111" stroke-width="0.9" />
<rect x="257.2" y="164.63" width="8.6" height="23.87" fill="#a5062b" />
<line x1="272.3" y1="179.82" x2="272.3" y2="175.05" stroke="#111" stroke-width="0.9" />
<line x1="270.1" y1="175.05" x2="274.5" y2="175.05" stroke="#111" stroke-width="0.9" />
<rect x="268" y="179.82" width="8.6" height="8.68" fill="#a5062b" />
<line x1="238" y1="144.5" x2="272.8" y2="144.5" stroke="#333" stroke-width="0.9" />
<line x1="238" y1="150" x2="262" y2="150" stroke="#8a8a8a" stroke-width="1.3" />
<line x1="238" y1="155.6" x2="251.2" y2="155.6" stroke="#555" stroke-width="0.9" />
<text x="250.9" y="142" font-size="4.6" textLength="7.8" lengthAdjust="spacingAndGlyphs" fill="#666">n.s.</text>
<circle cx="247.8" cy="147.6" r="0.55" fill="#333"/>
<circle cx="249.35" cy="147.6" r="0.55" fill="#333"/>
<circle cx="250.9" cy="147.6" r="0.55" fill="#333"/>
<circle cx="252.45" cy="147.6" r="0.55" fill="#333"/>
<circle cx="242.6" cy="153.4" r="0.6" fill="#333"/>
<circle cx="244.7" cy="153.4" r="0.6" fill="#333"/>
<circle cx="246.8" cy="153.4" r="0.6" fill="#333"/>
<text transform="translate(213.8 183.1) rotate(-90) scale(0.77 1)" font-size="7.8" fill="#111" class="md">% Ki67<tspan font-size="5" baseline-shift="4">+</tspan> cells</text>
<text transform="translate(243.1 199.8) rotate(-45) scale(0.9 1)" font-size="7.08" text-anchor="end" fill="#111">Medium</text>
<text transform="translate(253.8 199.8) rotate(-45) scale(0.9 1)" font-size="7.08" text-anchor="end" fill="#111">MM cells</text>
<text transform="translate(264.5 199.8) rotate(-45) scale(0.9 1)" font-size="7.08" text-anchor="end" fill="#111">U266B1</text>
<text transform="translate(275.3 199.8) rotate(-45) scale(0.9 1)" font-size="7.08" text-anchor="end" fill="#111">K562</text>
<text x="285.4" y="128.4" font-size="11.5" font-weight="bold" fill="#000">C</text>
<text x="315.7" y="143.5" font-size="8.5" textLength="26.3" lengthAdjust="spacingAndGlyphs">HD-NK</text>
<rect x="310.4" y="148.4" width="38" height="39.9" fill="none" stroke="#333" stroke-width="0.8" />
<ellipse cx="333.2" cy="163.6" rx="4.1" ry="8" transform="rotate(22 333.2 163.6)" fill="#b0b0b0" stroke="#333" stroke-width="0.5"/>
<ellipse cx="333" cy="164.2" rx="2.8" ry="5.8" transform="rotate(22 333 164.2)" fill="#8c8c8c" stroke="#444" stroke-width="0.4"/>
<ellipse cx="332.7" cy="165" rx="1.4" ry="3" transform="rotate(22 332.7 165)" fill="#6a6a6a"/>
<ellipse cx="322" cy="167.3" rx="7" ry="4.6" transform="rotate(-35 322 167.3)" fill="#aaa" stroke="#111" stroke-width="0.7"/>
<ellipse cx="322" cy="167.3" rx="5.2" ry="3.3" transform="rotate(-35 322 167.3)" fill="#777" stroke="#111" stroke-width="0.5"/>
<ellipse cx="321.6" cy="167.6" rx="2.4" ry="1.6" transform="rotate(-35 321.6 167.6)" fill="#f4f4f4" stroke="#222" stroke-width="0.4"/>
<line x1="327" y1="161.5" x2="331" y2="158.5" stroke="#333" stroke-width="0.7" />
<rect x="314.9" y="160.2" width="12.8" height="15.4" fill="none" stroke="#d2323f" stroke-width="1.1" />
<rect x="328.4" y="161.4" width="14.2" height="15.4" fill="none" stroke="#5262b2" stroke-width="1.1" />
<rect x="329.2" y="152.3" width="13.2" height="8.1" fill="none" stroke="#555" stroke-width="1" />
<line x1="301.6" y1="152.4" x2="301.6" y2="169.5" stroke="#111" stroke-width="1" />
<path d="M301.6 149.4 L299.4 154.4 L303.8 154.4 Z" fill="#111"/>
<text transform="translate(303.6 186.3) rotate(-90) scale(0.7 1)" font-size="8" fill="#111" class="hv">CD56</text>
<text transform="translate(308.2 199.8) scale(0.72 1)" font-size="7.4" fill="#111" class="hv">CD94</text>
<line x1="324" y1="197.3" x2="343" y2="197.3" stroke="#111" stroke-width="1" />
<path d="M346 197.3 L341 195.1 L341 199.5 Z" fill="#111"/>
<text x="410.4" y="116.8" font-size="8.7" textLength="34.6" lengthAdjust="spacingAndGlyphs">MM Cells</text>
<line x1="367.2" y1="121.6" x2="488.2" y2="121.6" stroke="#666" stroke-width="1.5" />
<rect x="366.4" y="124.9" width="33.4" height="18.9" fill="none" stroke="#3a3a3a" stroke-width="1.3" />
<text transform="translate(370 133.5) scale(1 1)" font-size="6.5" fill="#111">CD56<tspan font-size="4.3" baseline-shift="3.22">bright</tspan></text>
<text transform="translate(370 140.8) scale(1 1)" font-size="6.5" fill="#111">CD94<tspan font-size="4.3" baseline-shift="3.22">high</tspan></text>
<rect x="411.2" y="124.9" width="33.4" height="18.9" fill="none" stroke="#5a70b0" stroke-width="1.3" />
<text transform="translate(414.8 133.5) scale(1 1)" font-size="6.5" fill="#111">CD56<tspan font-size="4.3" baseline-shift="3.22">dim</tspan></text>
<text transform="translate(414.8 140.8) scale(1 1)" font-size="6.5" fill="#111">CD94<tspan font-size="4.3" baseline-shift="3.22">high</tspan></text>
<rect x="454.9" y="124.9" width="33.4" height="18.9" fill="none" stroke="#c8344f" stroke-width="1.3" />
<text transform="translate(458.5 133.5) scale(1 1)" font-size="6.5" fill="#111">CD56<tspan font-size="4.3" baseline-shift="3.22">dim</tspan></text>
<text transform="translate(458.5 140.8) scale(1 1)" font-size="6.5" fill="#111">CD94<tspan font-size="4.3" baseline-shift="3.22">low</tspan></text>
<line x1="356.5" y1="150.8" x2="356.5" y2="167.5" stroke="#111" stroke-width="1" />
<path d="M356.5 147.8 L354.3 152.8 L358.7 152.8 Z" fill="#111"/>
<text transform="translate(359 185.6) rotate(-90) scale(0.7 1)" font-size="8" fill="#111" class="hv">FSC-A</text>
<rect x="365.2" y="148.2" width="38.4" height="40.4" fill="none" stroke="#444" stroke-width="0.75" />
<line x1="384.3" y1="148.2" x2="384.3" y2="188.6" stroke="#555" stroke-width="0.75" />
<line x1="365.2" y1="177.8" x2="403.6" y2="177.8" stroke="#555" stroke-width="0.75" />
<ellipse cx="379.9" cy="182.2" rx="2.5" ry="2.9" fill="#888"/>
<ellipse cx="379.9" cy="182.2" rx="1.7" ry="2.1" fill="#111"/>
<text x="401.7" y="182.5" font-size="5.4" text-anchor="end" fill="#333">1.38</text>
<rect x="408.5" y="148.2" width="38.4" height="40.4" fill="none" stroke="#444" stroke-width="0.75" />
<line x1="427.2" y1="148.2" x2="427.2" y2="188.6" stroke="#555" stroke-width="0.75" />
<line x1="408.5" y1="177.8" x2="446.9" y2="177.8" stroke="#555" stroke-width="0.75" />
<ellipse cx="423.1" cy="182.8" rx="2.6" ry="3.1" fill="#888"/>
<ellipse cx="423.1" cy="182.8" rx="1.8" ry="2.3" fill="#111"/>
<text x="444" y="182.5" font-size="5.4" text-anchor="end" fill="#333">3.71</text>
<rect x="452" y="148.2" width="38.4" height="40.4" fill="none" stroke="#444" stroke-width="0.75" />
<line x1="470.4" y1="148.2" x2="470.4" y2="188.6" stroke="#555" stroke-width="0.75" />
<line x1="452" y1="177.8" x2="490.4" y2="177.8" stroke="#555" stroke-width="0.75" />
<ellipse cx="466.8" cy="181.6" rx="3.6" ry="3.7" fill="#888"/>
<ellipse cx="466.8" cy="181.6" rx="2.8" ry="2.9" fill="#111"/>
<text x="489.6" y="182.5" font-size="5.4" text-anchor="end" fill="#333">7.66</text>
<circle cx="471.14" cy="182.45" r="0.35" fill="#777"/>
<circle cx="472.33" cy="182.72" r="0.35" fill="#777"/>
<circle cx="474.63" cy="180.29" r="0.35" fill="#777"/>
<circle cx="469.12" cy="183.77" r="0.35" fill="#777"/>
<circle cx="471.33" cy="181.05" r="0.35" fill="#777"/>
<circle cx="477.96" cy="182.12" r="0.35" fill="#777"/>
<circle cx="476.53" cy="182.14" r="0.35" fill="#777"/>
<circle cx="474.75" cy="180.68" r="0.35" fill="#777"/>
<circle cx="474.71" cy="183.91" r="0.35" fill="#777"/>
<circle cx="473.71" cy="183.34" r="0.35" fill="#777"/>
<circle cx="475.04" cy="180.29" r="0.35" fill="#777"/>
<circle cx="475.82" cy="182.66" r="0.35" fill="#777"/>
<circle cx="471.71" cy="180.14" r="0.35" fill="#777"/>
<circle cx="476.79" cy="182.13" r="0.35" fill="#777"/>
<circle cx="475.47" cy="183.95" r="0.35" fill="#777"/>
<circle cx="475.43" cy="184.14" r="0.35" fill="#777"/>
<circle cx="472.55" cy="183.6" r="0.35" fill="#777"/>
<circle cx="473" cy="184.21" r="0.35" fill="#777"/>
<circle cx="476.91" cy="180.44" r="0.35" fill="#777"/>
<circle cx="470.22" cy="180.98" r="0.35" fill="#777"/>
<circle cx="477.69" cy="181.96" r="0.35" fill="#777"/>
<circle cx="474.64" cy="181.35" r="0.35" fill="#777"/>
<circle cx="473.57" cy="181.74" r="0.35" fill="#777"/>
<circle cx="472.16" cy="182.63" r="0.35" fill="#777"/>
<circle cx="474.26" cy="184.07" r="0.35" fill="#777"/>
<circle cx="475.14" cy="184.18" r="0.35" fill="#777"/>
<circle cx="476.71" cy="184.46" r="0.35" fill="#777"/>
<circle cx="475.04" cy="180.73" r="0.35" fill="#777"/>
<circle cx="476.75" cy="184.34" r="0.35" fill="#777"/>
<circle cx="477.14" cy="182.56" r="0.35" fill="#777"/>
<circle cx="475.42" cy="180.95" r="0.35" fill="#777"/>
<circle cx="476.48" cy="182.58" r="0.35" fill="#777"/>
<circle cx="471.56" cy="180.29" r="0.35" fill="#777"/>
<circle cx="476.69" cy="184.45" r="0.35" fill="#777"/>
<circle cx="469.8" cy="183.6" r="0.35" fill="#777"/>
<circle cx="472.69" cy="180.68" r="0.35" fill="#777"/>
<circle cx="471.65" cy="183.46" r="0.35" fill="#777"/>
<circle cx="476.85" cy="180.2" r="0.35" fill="#777"/>
<circle cx="474.53" cy="180.2" r="0.35" fill="#777"/>
<circle cx="475.47" cy="181.49" r="0.35" fill="#777"/>
<circle cx="432.17" cy="184.42" r="0.3" fill="#999"/>
<circle cx="429.54" cy="184.49" r="0.3" fill="#999"/>
<circle cx="428.17" cy="180.81" r="0.3" fill="#999"/>
<circle cx="430.2" cy="180.63" r="0.3" fill="#999"/>
<circle cx="427.38" cy="182.13" r="0.3" fill="#999"/>
<circle cx="430.27" cy="181.12" r="0.3" fill="#999"/>
<circle cx="426.3" cy="183.97" r="0.3" fill="#999"/>
<circle cx="428.2" cy="184.33" r="0.3" fill="#999"/>
<circle cx="432.28" cy="182.01" r="0.3" fill="#999"/>
<circle cx="429.22" cy="182.58" r="0.3" fill="#999"/>
<circle cx="430.51" cy="182.88" r="0.3" fill="#999"/>
<circle cx="429.91" cy="182.98" r="0.3" fill="#999"/>
<circle cx="432.58" cy="182.53" r="0.3" fill="#999"/>
<circle cx="429.02" cy="183.38" r="0.3" fill="#999"/>
<text transform="translate(361.9 199.8) scale(0.7 1)" font-size="7.4" fill="#111" class="hv">Ki67</text>
<line x1="377.7" y1="197.3" x2="486.8" y2="197.3" stroke="#111" stroke-width="1" />
<path d="M489.8 197.3 L484.8 195.1 L484.8 199.5 Z" fill="#111"/>
<text x="6.9" y="236.2" font-size="11.5" font-weight="bold" fill="#000">D</text>
<line x1="43.75" y1="256.2" x2="43.75" y2="307.75" stroke="#262626" stroke-width="1.5" />
<line x1="41.25" y1="259.4" x2="43.75" y2="259.4" stroke="#262626" stroke-width="1" />
<text x="37.85" y="261.78" font-size="6.6" text-anchor="end">20</text>
<line x1="41.25" y1="283.2" x2="43.75" y2="283.2" stroke="#262626" stroke-width="1" />
<text x="37.85" y="285.58" font-size="6.6" text-anchor="end">10</text>
<line x1="41.25" y1="307" x2="43.75" y2="307" stroke="#262626" stroke-width="1" />
<text x="37.85" y="309.38" font-size="6.6" text-anchor="end">0</text>
<line x1="43.75" y1="307" x2="111.3" y2="307" stroke="#262626" stroke-width="1.5" />
<line x1="52.1" y1="307" x2="52.1" y2="309.8" stroke="#262626" stroke-width="1" />
<line x1="64.4" y1="307" x2="64.4" y2="309.8" stroke="#262626" stroke-width="1" />
<line x1="76.7" y1="307" x2="76.7" y2="309.8" stroke="#262626" stroke-width="1" />
<line x1="89" y1="307" x2="89" y2="309.8" stroke="#262626" stroke-width="1" />
<line x1="101.3" y1="307" x2="101.3" y2="309.8" stroke="#262626" stroke-width="1" />
<line x1="52.1" y1="275.75" x2="52.1" y2="269.25" stroke="#111" stroke-width="0.9" />
<line x1="49.9" y1="269.25" x2="54.3" y2="269.25" stroke="#111" stroke-width="0.9" />
<rect x="47.9" y="275.75" width="8.4" height="31.25" fill="#a5062b" />
<line x1="64.4" y1="280" x2="64.4" y2="275.75" stroke="#111" stroke-width="0.9" />
<line x1="62.2" y1="275.75" x2="66.6" y2="275.75" stroke="#111" stroke-width="0.9" />
<rect x="60.2" y="280" width="8.4" height="27" fill="#a5062b" />
<line x1="76.7" y1="285" x2="76.7" y2="278.75" stroke="#111" stroke-width="0.9" />
<line x1="74.5" y1="278.75" x2="78.9" y2="278.75" stroke="#111" stroke-width="0.9" />
<rect x="72.5" y="285" width="8.4" height="22" fill="#a5062b" />
<line x1="89" y1="277.5" x2="89" y2="271.25" stroke="#111" stroke-width="0.9" />
<line x1="86.8" y1="271.25" x2="91.2" y2="271.25" stroke="#111" stroke-width="0.9" />
<rect x="84.8" y="277.5" width="8.4" height="29.5" fill="#a5062b" />
<line x1="101.3" y1="293" x2="101.3" y2="290" stroke="#111" stroke-width="0.9" />
<line x1="99.1" y1="290" x2="103.5" y2="290" stroke="#111" stroke-width="0.9" />
<rect x="97.1" y="293" width="8.4" height="14" fill="#a5062b" />
<line x1="51.25" y1="263.3" x2="103.75" y2="263.3" stroke="#333" stroke-width="1.2" />
<circle cx="75.45" cy="259.5" r="0.65" fill="#222"/>
<circle cx="77.45" cy="259.5" r="0.65" fill="#222"/>
<text transform="translate(14.2 303.4) rotate(-90) scale(0.82 1)" font-size="7.6" fill="#111" class="md">&#916; % increase of</text>
<text transform="translate(25 302) rotate(-90) scale(0.74 1)" font-size="8" fill="#111" class="md">CD94<tspan font-size="3.3" baseline-shift="4.46">low</tspan>CD56<tspan font-size="3.3" baseline-shift="4.46">dim</tspan></text>
<text transform="translate(54.9 318.3) rotate(-45) scale(0.9 1)" font-size="7.08" text-anchor="end" fill="#111">IgM ctrl</text>
<text transform="translate(67.2 318.3) rotate(-45) scale(0.9 1)" font-size="7.08" text-anchor="end" fill="#111">anti-NKp46</text>
<text transform="translate(79.5 318.3) rotate(-45) scale(0.9 1)" font-size="7.08" text-anchor="end" fill="#111">anti-NKp30</text>
<text transform="translate(91.8 318.3) rotate(-45) scale(0.9 1)" font-size="7.08" text-anchor="end" fill="#111">anti-NKG2D</text>
<text transform="translate(104.1 318.3) rotate(-45) scale(0.9 1)" font-size="7.08" text-anchor="end" fill="#111">anti-DNAM-1</text>
<text x="125.8" y="236.2" font-size="11.5" font-weight="bold" fill="#000">E</text>
<text x="139.5" y="261.8" font-size="8.5" textLength="33.5" lengthAdjust="spacingAndGlyphs">MM cells</text>
<rect x="139.8" y="267.2" width="34.1" height="40.2" fill="none" stroke="#333" stroke-width="0.8" />
<rect x="157.2" y="271.5" width="14.7" height="15" fill="none" stroke="#333" stroke-width="0.9" />
<rect x="157.2" y="292.6" width="14.7" height="13.5" fill="none" stroke="#333" stroke-width="0.9" />
<path d="M160.3 277.5 C160 274 167 273.6 167.4 277 C168 280.5 166.8 285.2 164 285.6 C161.3 286 160.2 282 160.3 277.5 Z" fill="#111"/>
<circle cx="162.3" cy="284.74" r="0.4" fill="#333"/>
<circle cx="161.94" cy="275.91" r="0.4" fill="#333"/>
<circle cx="160.09" cy="278.66" r="0.4" fill="#333"/>
<circle cx="167.63" cy="282.31" r="0.4" fill="#333"/>
<circle cx="167.64" cy="281.45" r="0.4" fill="#333"/>
<circle cx="166.72" cy="282.17" r="0.4" fill="#333"/>
<circle cx="159.56" cy="283.44" r="0.4" fill="#333"/>
<circle cx="166.3" cy="283.89" r="0.4" fill="#333"/>
<circle cx="160.3" cy="274.31" r="0.4" fill="#333"/>
<circle cx="160.38" cy="277.16" r="0.4" fill="#333"/>
<circle cx="166.9" cy="279.26" r="0.4" fill="#333"/>
<circle cx="166.1" cy="275.53" r="0.4" fill="#333"/>
<circle cx="165.83" cy="284.08" r="0.4" fill="#333"/>
<circle cx="165.59" cy="286.09" r="0.4" fill="#333"/>
<circle cx="161.35" cy="275.38" r="0.4" fill="#333"/>
<circle cx="160.77" cy="278.52" r="0.4" fill="#333"/>
<circle cx="167.03" cy="282" r="0.4" fill="#333"/>
<circle cx="162.13" cy="274.37" r="0.4" fill="#333"/>
<circle cx="162.13" cy="286.19" r="0.4" fill="#333"/>
<circle cx="160.29" cy="281.68" r="0.4" fill="#333"/>
<circle cx="165.04" cy="273.17" r="0.4" fill="#333"/>
<circle cx="158.99" cy="278.79" r="0.4" fill="#333"/>
<circle cx="163.33" cy="274.3" r="0.4" fill="#333"/>
<circle cx="167.06" cy="279.35" r="0.4" fill="#333"/>
<circle cx="159.78" cy="283.59" r="0.4" fill="#333"/>
<circle cx="166.15" cy="285.24" r="0.4" fill="#333"/>
<circle cx="168.1" cy="281.71" r="0.4" fill="#333"/>
<circle cx="164.19" cy="273.34" r="0.4" fill="#333"/>
<circle cx="166.42" cy="275.89" r="0.4" fill="#333"/>
<circle cx="162.36" cy="273.63" r="0.4" fill="#333"/>
<circle cx="160.3" cy="276.97" r="0.4" fill="#333"/>
<circle cx="166.49" cy="273.31" r="0.4" fill="#333"/>
<circle cx="159.43" cy="281.13" r="0.4" fill="#333"/>
<circle cx="167.98" cy="282.65" r="0.4" fill="#333"/>
<circle cx="160.72" cy="273.55" r="0.4" fill="#333"/>
<circle cx="165.39" cy="274.84" r="0.4" fill="#333"/>
<circle cx="160.46" cy="284.61" r="0.4" fill="#333"/>
<circle cx="167.76" cy="280.89" r="0.4" fill="#333"/>
<circle cx="165.42" cy="284.51" r="0.4" fill="#333"/>
<circle cx="168.13" cy="282.66" r="0.4" fill="#333"/>
<circle cx="166.25" cy="284.08" r="0.4" fill="#333"/>
<circle cx="160.04" cy="284.86" r="0.4" fill="#333"/>
<circle cx="167.28" cy="283.05" r="0.4" fill="#333"/>
<circle cx="159.15" cy="277.64" r="0.4" fill="#333"/>
<circle cx="165.84" cy="273.06" r="0.4" fill="#333"/>
<circle cx="163.11" cy="286.07" r="0.4" fill="#333"/>
<circle cx="160.71" cy="285.98" r="0.4" fill="#333"/>
<circle cx="167.04" cy="278.61" r="0.4" fill="#333"/>
<circle cx="165.38" cy="284.98" r="0.4" fill="#333"/>
<circle cx="160.76" cy="276.99" r="0.4" fill="#333"/>
<circle cx="167.71" cy="280.16" r="0.4" fill="#333"/>
<circle cx="160.92" cy="284.88" r="0.4" fill="#333"/>
<circle cx="168.09" cy="277.94" r="0.4" fill="#333"/>
<circle cx="159.49" cy="279.34" r="0.4" fill="#333"/>
<circle cx="162.39" cy="275.55" r="0.4" fill="#333"/>
<circle cx="167.57" cy="275.65" r="0.4" fill="#333"/>
<circle cx="167.12" cy="274.73" r="0.4" fill="#333"/>
<circle cx="162.82" cy="295" r="0.35" fill="#444"/>
<circle cx="159.64" cy="296.05" r="0.35" fill="#444"/>
<circle cx="159.18" cy="293.5" r="0.35" fill="#444"/>
<circle cx="160.8" cy="293.93" r="0.35" fill="#444"/>
<circle cx="162.24" cy="293.44" r="0.35" fill="#444"/>
<circle cx="158.5" cy="293.88" r="0.35" fill="#444"/>
<circle cx="159.62" cy="294.84" r="0.35" fill="#444"/>
<circle cx="158.78" cy="297.13" r="0.35" fill="#444"/>
<circle cx="165.25" cy="293.87" r="0.35" fill="#444"/>
<circle cx="161.27" cy="294.76" r="0.35" fill="#444"/>
<circle cx="162.51" cy="293.75" r="0.35" fill="#444"/>
<circle cx="167.84" cy="297.67" r="0.35" fill="#444"/>
<circle cx="163.63" cy="295.38" r="0.35" fill="#444"/>
<circle cx="159.44" cy="293.66" r="0.35" fill="#444"/>
<circle cx="162.27" cy="294.39" r="0.35" fill="#444"/>
<circle cx="167.62" cy="293.93" r="0.35" fill="#444"/>
<circle cx="158.75" cy="297.48" r="0.35" fill="#444"/>
<circle cx="164.31" cy="293.86" r="0.35" fill="#444"/>
<circle cx="164.47" cy="293.32" r="0.35" fill="#444"/>
<circle cx="164.31" cy="297.6" r="0.35" fill="#444"/>
<circle cx="168" cy="296.33" r="0.35" fill="#444"/>
<circle cx="161.37" cy="294.85" r="0.35" fill="#444"/>
<circle cx="160.34" cy="296.67" r="0.35" fill="#444"/>
<circle cx="164.36" cy="296.71" r="0.35" fill="#444"/>
<circle cx="162.13" cy="294.2" r="0.35" fill="#444"/>
<circle cx="167.43" cy="297.63" r="0.35" fill="#444"/>
<circle cx="167.88" cy="296.83" r="0.35" fill="#444"/>
<circle cx="167.5" cy="296.53" r="0.35" fill="#444"/>
<circle cx="160.99" cy="295.53" r="0.35" fill="#444"/>
<circle cx="162.41" cy="293.33" r="0.35" fill="#444"/>
<circle cx="158.81" cy="294.46" r="0.35" fill="#444"/>
<circle cx="161.35" cy="296.32" r="0.35" fill="#444"/>
<circle cx="169.02" cy="295.21" r="0.35" fill="#444"/>
<circle cx="168.81" cy="297.65" r="0.35" fill="#444"/>
<circle cx="169.01" cy="294.84" r="0.35" fill="#444"/>
<circle cx="160.93" cy="294.22" r="0.35" fill="#444"/>
<circle cx="160.66" cy="294.12" r="0.35" fill="#444"/>
<circle cx="165.36" cy="297.25" r="0.35" fill="#444"/>
<circle cx="167.74" cy="295.36" r="0.35" fill="#444"/>
<circle cx="165.68" cy="296.8" r="0.35" fill="#444"/>
<circle cx="163.5" cy="287.5" r="0.45" fill="#222"/>
<circle cx="162" cy="289" r="0.45" fill="#222"/>
<circle cx="165" cy="290.2" r="0.45" fill="#222"/>
<circle cx="163" cy="291.5" r="0.45" fill="#222"/>
<circle cx="166.5" cy="288.3" r="0.45" fill="#222"/>
<circle cx="161" cy="290.5" r="0.45" fill="#222"/>
<circle cx="168" cy="289.5" r="0.45" fill="#222"/>
<circle cx="164.3" cy="293" r="0.45" fill="#222"/>
<path d="M159.5 294.5 C161 293.6 165 293.8 168.5 294.6 L167 296.8 C164 297.6 161 297.5 159.5 296.4 Z" fill="#222"/>
<text transform="translate(140.5 279.5) scale(0.86 1)" font-size="6.4" fill="#111">CD56<tspan font-size="4.2" baseline-shift="3.36">+</tspan></text>
<text transform="translate(140.8 299.3) scale(0.86 1)" font-size="6.4" fill="#111">CD56<tspan font-size="4.2" baseline-shift="3.36">-</tspan></text>
<line x1="130.8" y1="271.6" x2="130.8" y2="290.5" stroke="#111" stroke-width="1" />
<path d="M130.8 268.6 L128.6 273.6 L133 273.6 Z" fill="#111"/>
<text transform="translate(133 307.2) rotate(-90) scale(0.68 1)" font-size="8" fill="#111" class="hv">CD56</text>
<text transform="translate(141.3 319) scale(0.66 1)" font-size="8" fill="#111" class="hv">CD138</text>
<line x1="158.8" y1="316.2" x2="170.3" y2="316.2" stroke="#111" stroke-width="1" />
<path d="M173.3 316.2 L168.3 314 L168.3 318.4 Z" fill="#111"/>
<text x="257.1" y="246.8" font-size="8.5" textLength="32.3" lengthAdjust="spacingAndGlyphs">MM cells</text>
<line x1="246.4" y1="251.4" x2="300.2" y2="251.4" stroke="#222" stroke-width="0.9" />
<text x="192.5" y="264.5" font-size="8.5" textLength="28.3" lengthAdjust="spacingAndGlyphs">Medium</text>
<text transform="translate(241.8 265.2) scale(0.92 1)" font-size="8.8" fill="#111">CD56<tspan font-size="5.4" baseline-shift="2.97">-</tspan></text>
<text transform="translate(278.7 265.2) scale(0.92 1)" font-size="8.8" fill="#111">CD56<tspan font-size="5.4" baseline-shift="2.97">+</tspan></text>
<rect x="190.1" y="270.3" width="37.8" height="36.9" fill="none" stroke="#333" stroke-width="0.8" />
<ellipse cx="216.5" cy="284" rx="7.27" ry="2.8" transform="rotate(-63.43 216.5 284)" fill="#c4c4c4" stroke="#1a1a1a" stroke-width="0.7"/>
<ellipse cx="218.5" cy="280" rx="1.8" ry="1.5" fill="#999" stroke="#222" stroke-width="0.5"/>
<circle cx="218.5" cy="280" r="0.6" fill="#111"/>
<ellipse cx="214.5" cy="288" rx="5.2" ry="6.5" fill="#bdbdbd" stroke="#1a1a1a" stroke-width="0.7"/>
<ellipse cx="214.5" cy="288" rx="3.9" ry="4.88" fill="#9a9a9a" stroke="#1a1a1a" stroke-width="0.5"/>
<ellipse cx="214.5" cy="288" rx="2.6" ry="3.25" fill="#b0b0b0" stroke="#1a1a1a" stroke-width="0.5"/>
<ellipse cx="214.5" cy="288" rx="1.3" ry="1.62" fill="#7a7a7a" stroke="#1a1a1a" stroke-width="0.5"/>
<circle cx="214.5" cy="288" r="0.8" fill="#111"/>
<ellipse cx="202.9" cy="287.5" rx="4.6" ry="5.6" fill="#bdbdbd" stroke="#1a1a1a" stroke-width="0.7"/>
<ellipse cx="202.9" cy="287.5" rx="3.45" ry="4.2" fill="#9a9a9a" stroke="#1a1a1a" stroke-width="0.5"/>
<ellipse cx="202.9" cy="287.5" rx="2.3" ry="2.8" fill="#b0b0b0" stroke="#1a1a1a" stroke-width="0.5"/>
<ellipse cx="202.9" cy="287.5" rx="1.15" ry="1.4" fill="#7a7a7a" stroke="#1a1a1a" stroke-width="0.5"/>
<circle cx="202.9" cy="287.5" r="0.8" fill="#111"/>
<rect x="195.4" y="280.3" width="14.3" height="14.9" fill="none" stroke="#222" stroke-width="0.9" />
<text x="195.6" y="302.6" font-size="6" textLength="10.6" lengthAdjust="spacingAndGlyphs">42.5</text>
<rect x="232.5" y="270.3" width="38" height="36.9" fill="none" stroke="#333" stroke-width="0.8" />
<ellipse cx="258.35" cy="284.75" rx="6.7" ry="2.8" transform="rotate(-56.51 258.35 284.75)" fill="#c4c4c4" stroke="#1a1a1a" stroke-width="0.7"/>
<ellipse cx="260.5" cy="281.5" rx="1.8" ry="1.5" fill="#999" stroke="#222" stroke-width="0.5"/>
<circle cx="260.5" cy="281.5" r="0.6" fill="#111"/>
<ellipse cx="256.2" cy="288" rx="4" ry="4.6" fill="#bdbdbd" stroke="#1a1a1a" stroke-width="0.7"/>
<ellipse cx="256.2" cy="288" rx="3" ry="3.45" fill="#9a9a9a" stroke="#1a1a1a" stroke-width="0.5"/>
<ellipse cx="256.2" cy="288" rx="2" ry="2.3" fill="#b0b0b0" stroke="#1a1a1a" stroke-width="0.5"/>
<ellipse cx="256.2" cy="288" rx="1" ry="1.15" fill="#7a7a7a" stroke="#1a1a1a" stroke-width="0.5"/>
<circle cx="256.2" cy="288" r="0.8" fill="#111"/>
<ellipse cx="246.3" cy="288.9" rx="4" ry="4.6" fill="#bdbdbd" stroke="#1a1a1a" stroke-width="0.7"/>
<ellipse cx="246.3" cy="288.9" rx="3" ry="3.45" fill="#9a9a9a" stroke="#1a1a1a" stroke-width="0.5"/>
<ellipse cx="246.3" cy="288.9" rx="2" ry="2.3" fill="#b0b0b0" stroke="#1a1a1a" stroke-width="0.5"/>
<ellipse cx="246.3" cy="288.9" rx="1" ry="1.15" fill="#7a7a7a" stroke="#1a1a1a" stroke-width="0.5"/>
<circle cx="246.3" cy="288.9" r="0.8" fill="#111"/>
<rect x="238.2" y="280.4" width="14.4" height="15" fill="none" stroke="#222" stroke-width="0.9" />
<text x="239" y="302.6" font-size="6" textLength="10.6" lengthAdjust="spacingAndGlyphs">41.3</text>
<rect x="273" y="270.3" width="37.9" height="36.9" fill="none" stroke="#333" stroke-width="0.8" />
<ellipse cx="301.05" cy="284.7" rx="7.66" ry="2.8" transform="rotate(-59.74 301.05 284.7)" fill="#c4c4c4" stroke="#1a1a1a" stroke-width="0.7"/>
<ellipse cx="303.5" cy="280.5" rx="1.8" ry="1.5" fill="#999" stroke="#222" stroke-width="0.5"/>
<circle cx="303.5" cy="280.5" r="0.6" fill="#111"/>
<ellipse cx="298.6" cy="288.9" rx="4.3" ry="5" fill="#bdbdbd" stroke="#1a1a1a" stroke-width="0.7"/>
<ellipse cx="298.6" cy="288.9" rx="3.22" ry="3.75" fill="#9a9a9a" stroke="#1a1a1a" stroke-width="0.5"/>
<ellipse cx="298.6" cy="288.9" rx="2.15" ry="2.5" fill="#b0b0b0" stroke="#1a1a1a" stroke-width="0.5"/>
<ellipse cx="298.6" cy="288.9" rx="1.07" ry="1.25" fill="#7a7a7a" stroke="#1a1a1a" stroke-width="0.5"/>
<circle cx="298.6" cy="288.9" r="0.8" fill="#111"/>
<ellipse cx="288.2" cy="288.9" rx="5.4" ry="4.4" fill="#bdbdbd" stroke="#1a1a1a" stroke-width="0.7"/>
<ellipse cx="288.2" cy="288.9" rx="4.05" ry="3.3" fill="#9a9a9a" stroke="#1a1a1a" stroke-width="0.5"/>
<ellipse cx="288.2" cy="288.9" rx="2.7" ry="2.2" fill="#b0b0b0" stroke="#1a1a1a" stroke-width="0.5"/>
<ellipse cx="288.2" cy="288.9" rx="1.35" ry="1.1" fill="#7a7a7a" stroke="#1a1a1a" stroke-width="0.5"/>
<circle cx="288.2" cy="288.9" r="0.8" fill="#111"/>
<rect x="280.3" y="281" width="14.8" height="15.2" fill="none" stroke="#222" stroke-width="0.9" />
<text x="281.5" y="302.6" font-size="6" textLength="10.6" lengthAdjust="spacingAndGlyphs">50.1</text>
<line x1="179.8" y1="273.2" x2="179.8" y2="289.5" stroke="#111" stroke-width="1" />
<path d="M179.8 270.2 L177.6 275.2 L182 275.2 Z" fill="#111"/>
<text transform="translate(182 307.1) rotate(-90) scale(0.66 1)" font-size="8" fill="#111" class="hv">CD56</text>
<text transform="translate(189.8 317.9) scale(0.66 1)" font-size="8" fill="#111" class="hv">CD94</text>
<line x1="206.8" y1="315.7" x2="306.4" y2="315.7" stroke="#111" stroke-width="1" />
<path d="M309.4 315.7 L304.4 313.5 L304.4 317.9 Z" fill="#111"/>
<text x="326.6" y="236.1" font-size="11.5" font-weight="bold" fill="#000">F</text>
<text x="367.4" y="248.7" font-size="8.5" textLength="33.3" lengthAdjust="spacingAndGlyphs">MM cells</text>
<line x1="358.2" y1="252.9" x2="410.6" y2="252.9" stroke="#222" stroke-width="0.9" />
<text x="347.4" y="263.4" font-size="8.5" textLength="28" lengthAdjust="spacingAndGlyphs">IgM ctrl</text>
<text x="388.1" y="263" font-size="8.5" textLength="38" lengthAdjust="spacingAndGlyphs">anti-CD56</text>
<rect x="341.6" y="267.3" width="39.2" height="39.9" fill="none" stroke="#222" stroke-width="0.9" />
<line x1="340.5" y1="268.5" x2="341.6" y2="268.5" stroke="#222" stroke-width="0.6" />
<line x1="339.8" y1="270.9" x2="341.6" y2="270.9" stroke="#222" stroke-width="0.6" />
<line x1="340.5" y1="273.3" x2="341.6" y2="273.3" stroke="#222" stroke-width="0.6" />
<line x1="340.5" y1="275.7" x2="341.6" y2="275.7" stroke="#222" stroke-width="0.6" />
<line x1="340.5" y1="278.1" x2="341.6" y2="278.1" stroke="#222" stroke-width="0.6" />
<line x1="339.8" y1="280.5" x2="341.6" y2="280.5" stroke="#222" stroke-width="0.6" />
<line x1="340.5" y1="282.9" x2="341.6" y2="282.9" stroke="#222" stroke-width="0.6" />
<line x1="340.5" y1="285.3" x2="341.6" y2="285.3" stroke="#222" stroke-width="0.6" />
<line x1="340.5" y1="287.7" x2="341.6" y2="287.7" stroke="#222" stroke-width="0.6" />
<line x1="339.8" y1="290.1" x2="341.6" y2="290.1" stroke="#222" stroke-width="0.6" />
<line x1="340.5" y1="292.5" x2="341.6" y2="292.5" stroke="#222" stroke-width="0.6" />
<line x1="340.5" y1="294.9" x2="341.6" y2="294.9" stroke="#222" stroke-width="0.6" />
<line x1="340.5" y1="297.3" x2="341.6" y2="297.3" stroke="#222" stroke-width="0.6" />
<line x1="339.8" y1="299.7" x2="341.6" y2="299.7" stroke="#222" stroke-width="0.6" />
<line x1="340.5" y1="302.1" x2="341.6" y2="302.1" stroke="#222" stroke-width="0.6" />
<line x1="340.5" y1="304.5" x2="341.6" y2="304.5" stroke="#222" stroke-width="0.6" />
<line x1="340.5" y1="306.9" x2="341.6" y2="306.9" stroke="#222" stroke-width="0.6" />
<line x1="344.1" y1="307.2" x2="344.1" y2="308.8" stroke="#222" stroke-width="0.7" />
<line x1="348" y1="307.2" x2="348" y2="308.8" stroke="#222" stroke-width="0.7" />
<line x1="351.9" y1="307.2" x2="351.9" y2="308.8" stroke="#222" stroke-width="0.7" />
<line x1="355.8" y1="307.2" x2="355.8" y2="308.8" stroke="#222" stroke-width="0.7" />
<line x1="359.7" y1="307.2" x2="359.7" y2="308.8" stroke="#222" stroke-width="0.7" />
<line x1="363.6" y1="307.2" x2="363.6" y2="308.8" stroke="#222" stroke-width="0.7" />
<line x1="367.5" y1="307.2" x2="367.5" y2="308.8" stroke="#222" stroke-width="0.7" />
<line x1="371.4" y1="307.2" x2="371.4" y2="308.8" stroke="#222" stroke-width="0.7" />
<line x1="375.3" y1="307.2" x2="375.3" y2="308.8" stroke="#222" stroke-width="0.7" />
<line x1="379.2" y1="307.2" x2="379.2" y2="308.8" stroke="#222" stroke-width="0.7" />
<path d="M348 307.2 C349.6 305.7 351 289.6 352.6 289.6 C354.1 289.6 354.4 302.59999999999997 356.8 303.0 C359.5 303.2 361.8 275.6 363.3 275.6 C364.8 275.6 364.9 303.7 367.1 305.8 L371.8 307.2 Z" fill="#d98a9c" stroke="#b01a3c" stroke-width="0.8"/>
<line x1="347.4" y1="299.5" x2="357.1" y2="299.5" stroke="#111" stroke-width="1.2" />
<line x1="347.4" y1="298.4" x2="347.4" y2="300.6" stroke="#111" stroke-width="0.7" />
<line x1="357.1" y1="298.4" x2="357.1" y2="300.6" stroke="#111" stroke-width="0.7" />
<text x="346.9" y="285" font-size="6.2" textLength="10.3" lengthAdjust="spacingAndGlyphs">40.2</text>
<rect x="387.6" y="267.3" width="39.1" height="39.9" fill="none" stroke="#222" stroke-width="0.9" />
<line x1="386.5" y1="268.5" x2="387.6" y2="268.5" stroke="#222" stroke-width="0.6" />
<line x1="385.8" y1="270.9" x2="387.6" y2="270.9" stroke="#222" stroke-width="0.6" />
<line x1="386.5" y1="273.3" x2="387.6" y2="273.3" stroke="#222" stroke-width="0.6" />
<line x1="386.5" y1="275.7" x2="387.6" y2="275.7" stroke="#222" stroke-width="0.6" />
<line x1="386.5" y1="278.1" x2="387.6" y2="278.1" stroke="#222" stroke-width="0.6" />
<line x1="385.8" y1="280.5" x2="387.6" y2="280.5" stroke="#222" stroke-width="0.6" />
<line x1="386.5" y1="282.9" x2="387.6" y2="282.9" stroke="#222" stroke-width="0.6" />
<line x1="386.5" y1="285.3" x2="387.6" y2="285.3" stroke="#222" stroke-width="0.6" />
<line x1="386.5" y1="287.7" x2="387.6" y2="287.7" stroke="#222" stroke-width="0.6" />
<line x1="385.8" y1="290.1" x2="387.6" y2="290.1" stroke="#222" stroke-width="0.6" />
<line x1="386.5" y1="292.5" x2="387.6" y2="292.5" stroke="#222" stroke-width="0.6" />
<line x1="386.5" y1="294.9" x2="387.6" y2="294.9" stroke="#222" stroke-width="0.6" />
<line x1="386.5" y1="297.3" x2="387.6" y2="297.3" stroke="#222" stroke-width="0.6" />
<line x1="385.8" y1="299.7" x2="387.6" y2="299.7" stroke="#222" stroke-width="0.6" />
<line x1="386.5" y1="302.1" x2="387.6" y2="302.1" stroke="#222" stroke-width="0.6" />
<line x1="386.5" y1="304.5" x2="387.6" y2="304.5" stroke="#222" stroke-width="0.6" />
<line x1="386.5" y1="306.9" x2="387.6" y2="306.9" stroke="#222" stroke-width="0.6" />
<line x1="390.1" y1="307.2" x2="390.1" y2="308.8" stroke="#222" stroke-width="0.7" />
<line x1="394" y1="307.2" x2="394" y2="308.8" stroke="#222" stroke-width="0.7" />
<line x1="397.9" y1="307.2" x2="397.9" y2="308.8" stroke="#222" stroke-width="0.7" />
<line x1="401.8" y1="307.2" x2="401.8" y2="308.8" stroke="#222" stroke-width="0.7" />
<line x1="405.7" y1="307.2" x2="405.7" y2="308.8" stroke="#222" stroke-width="0.7" />
<line x1="409.6" y1="307.2" x2="409.6" y2="308.8" stroke="#222" stroke-width="0.7" />
<line x1="413.5" y1="307.2" x2="413.5" y2="308.8" stroke="#222" stroke-width="0.7" />
<line x1="417.4" y1="307.2" x2="417.4" y2="308.8" stroke="#222" stroke-width="0.7" />
<line x1="421.3" y1="307.2" x2="421.3" y2="308.8" stroke="#222" stroke-width="0.7" />
<line x1="425.2" y1="307.2" x2="425.2" y2="308.8" stroke="#222" stroke-width="0.7" />
<path d="M393 307.2 C394.6 305.7 396 292.3 397.6 292.3 C399.1 292.3 399.4 302.59999999999997 401.8 303.0 C405.5 303.2 407.8 270.6 409.3 270.6 C410.8 270.6 410.9 303.7 413.1 305.8 L417.8 307.2 Z" fill="#d98a9c" stroke="#b01a3c" stroke-width="0.8"/>
<line x1="394.1" y1="299.5" x2="403.8" y2="299.5" stroke="#111" stroke-width="1.2" />
<line x1="394.1" y1="298.4" x2="394.1" y2="300.6" stroke="#111" stroke-width="0.7" />
<line x1="403.8" y1="298.4" x2="403.8" y2="300.6" stroke="#111" stroke-width="0.7" />
<text x="393.6" y="285" font-size="6.2" textLength="10.3" lengthAdjust="spacingAndGlyphs">28.3</text>
<text transform="translate(333.2 294.9) rotate(-90) scale(0.66 1)" font-size="8.6" fill="#111" class="hv">Count</text>
<text transform="translate(354.8 321.1) scale(0.6 1)" font-size="8.6" fill="#111" class="hv">CD94</text>
<text transform="translate(400.3 320.8) scale(0.6 1)" font-size="8.6" fill="#111" class="hv">CD94</text>
<line x1="477.7" y1="251.9" x2="477.7" y2="307.75" stroke="#262626" stroke-width="1.5" />
<line x1="475.3" y1="255.5" x2="477.7" y2="255.5" stroke="#262626" stroke-width="1" />
<text x="472.1" y="257.88" font-size="6.6" text-anchor="end">15</text>
<line x1="475.3" y1="281.5" x2="477.7" y2="281.5" stroke="#262626" stroke-width="1" />
<text x="472.1" y="283.88" font-size="6.6" text-anchor="end">5</text>
<line x1="475.3" y1="307" x2="477.7" y2="307" stroke="#262626" stroke-width="1" />
<text x="472.1" y="309.38" font-size="6.6" text-anchor="end">0</text>
<line x1="477.7" y1="307" x2="512.3" y2="307" stroke="#262626" stroke-width="1.5" />
<line x1="488.8" y1="307" x2="488.8" y2="309.8" stroke="#262626" stroke-width="1" />
<line x1="503.3" y1="307" x2="503.3" y2="309.8" stroke="#262626" stroke-width="1" />
<line x1="488.8" y1="271.2" x2="488.8" y2="264.7" stroke="#111" stroke-width="0.9" />
<line x1="486.6" y1="264.7" x2="491" y2="264.7" stroke="#111" stroke-width="0.9" />
<rect x="483.8" y="271.2" width="10" height="35.8" fill="#a5062b" />
<line x1="503.35" y1="301.6" x2="503.35" y2="298.5" stroke="#111" stroke-width="0.9" />
<line x1="501.15" y1="298.5" x2="505.55" y2="298.5" stroke="#111" stroke-width="0.9" />
<rect x="498.2" y="301.6" width="10.3" height="5.4" fill="#a5062b" />
<line x1="487.1" y1="256.3" x2="500.7" y2="256.3" stroke="#3a3a3a" stroke-width="1.3" />
<circle cx="492.9" cy="253.4" r="0.65" fill="#222"/>
<circle cx="494.9" cy="253.4" r="0.65" fill="#222"/>
<text transform="translate(449.4 304.4) rotate(-90) scale(0.8 1)" font-size="7.6" fill="#111" class="md">&#916;% increase of</text>
<text transform="translate(459.9 303.8) rotate(-90) scale(0.78 1)" font-size="8" fill="#111" class="md">CD94<tspan font-size="3.3" baseline-shift="4.46">low</tspan>CD56<tspan font-size="3.3" baseline-shift="4.46">dim</tspan></text>
<text transform="translate(491.6 318.3) rotate(-45) scale(0.9 1)" font-size="7.08" text-anchor="end" fill="#111">IgM ctrl</text>
<text transform="translate(506.1 318.3) rotate(-45) scale(0.9 1)" font-size="7.08" text-anchor="end" fill="#111">anti-CD56</text>
<text x="6.7" y="363.2" font-size="11.5" font-weight="bold" fill="#000">G</text>
<text x="87" y="375.1" font-size="8.5" textLength="33.4" lengthAdjust="spacingAndGlyphs">MM cells</text>
<line x1="76.9" y1="379.6" x2="131" y2="379.6" stroke="#222" stroke-width="0.9" />
<text x="29" y="391.3" font-size="8.5" textLength="28.5" lengthAdjust="spacingAndGlyphs">Medium</text>
<text x="69" y="391.4" font-size="8.5" textLength="27.3" lengthAdjust="spacingAndGlyphs">IgM ctrl</text>
<text x="108.2" y="391.5" font-size="8.5" textLength="37.8" lengthAdjust="spacingAndGlyphs">anti-CD56</text>
<rect x="20.5" y="396.3" width="40" height="39.2" fill="none" stroke="#333" stroke-width="0.8" />
<path d="M27.4 424.5 L31.8 419.63 A5.6 5.6 0 1 1 31.8 429.37 Z" fill="#e6e6e6" stroke="#111" stroke-width="0.9"/>
<circle cx="35.2" cy="424.5" r="4.48" fill="#9a9a9a" stroke="#333" stroke-width="0.6"/>
<circle cx="35.2" cy="424.5" r="2.91" fill="#7a7a7a" stroke="#444" stroke-width="0.5"/>
<circle cx="35.2" cy="424.5" r="0.8" fill="#111"/>
<rect x="39.9" y="417.5" width="13" height="14.8" rx="0.8" fill="none" stroke="#333" stroke-width="0.9"/>
<text x="40.8" y="413.5" font-size="5.9" textLength="10.2" lengthAdjust="spacingAndGlyphs">0.61</text>
<rect x="62.9" y="396.3" width="39.3" height="39.2" fill="none" stroke="#333" stroke-width="0.8" />
<path d="M77.2 421.5 C82.2 420 87.7 421.5 87.4 425 C87.2 428.5 81.2 429 77.2 427.5 Z" fill="#bbb" stroke="#222" stroke-width="0.6"/>
<path d="M67.3 424.5 L71.9 419.45 A5.8 5.8 0 1 1 71.9 429.55 Z" fill="#e6e6e6" stroke="#111" stroke-width="0.9"/>
<circle cx="75.4" cy="424.5" r="4.64" fill="#9a9a9a" stroke="#333" stroke-width="0.6"/>
<circle cx="75.4" cy="424.5" r="3.02" fill="#7a7a7a" stroke="#444" stroke-width="0.5"/>
<circle cx="75.4" cy="424.5" r="0.8" fill="#111"/>
<rect x="79.2" y="417.5" width="12.8" height="14.8" rx="0.8" fill="none" stroke="#333" stroke-width="0.9"/>
<text x="79.9" y="413.5" font-size="5.9" textLength="10.2" lengthAdjust="spacingAndGlyphs">6.42</text>
<rect x="105.5" y="396.3" width="39.7" height="39.2" fill="none" stroke="#333" stroke-width="0.8" />
<path d="M114.2 423.8 L116.6 419.28 A5.2 5.2 0 1 1 116.6 428.32 Z" fill="#e6e6e6" stroke="#111" stroke-width="0.9"/>
<circle cx="119.8" cy="423.8" r="4.16" fill="#9a9a9a" stroke="#333" stroke-width="0.6"/>
<circle cx="119.8" cy="423.8" r="2.7" fill="#7a7a7a" stroke="#444" stroke-width="0.5"/>
<circle cx="119.8" cy="423.8" r="0.8" fill="#111"/>
<rect x="124.8" y="416.6" width="13" height="14.3" rx="0.8" fill="none" stroke="#333" stroke-width="0.9"/>
<text x="126" y="413.5" font-size="5.9" textLength="10.2" lengthAdjust="spacingAndGlyphs">1.23</text>
<line x1="11.6" y1="400.7" x2="11.6" y2="416" stroke="#111" stroke-width="1" />
<path d="M11.6 397.7 L9.4 402.7 L13.8 402.7 Z" fill="#111"/>
<text transform="translate(13.8 434.3) rotate(-90) scale(0.66 1)" font-size="8" fill="#111" class="hv">FSC-A</text>
<text transform="translate(20.3 448) scale(0.62 1)" font-size="8.6" fill="#111" class="hv">Ki67</text>
<line x1="34.8" y1="444.8" x2="135.8" y2="444.8" stroke="#111" stroke-width="1" />
<path d="M138.8 444.8 L133.8 442.6 L133.8 447 Z" fill="#111"/>
<line x1="190" y1="381.1" x2="190" y2="436.05" stroke="#262626" stroke-width="1.5" />
<line x1="187.6" y1="383.1" x2="190" y2="383.1" stroke="#262626" stroke-width="1" />
<text x="184.4" y="385.48" font-size="6.6" text-anchor="end">10</text>
<line x1="187.6" y1="393.54" x2="190" y2="393.54" stroke="#262626" stroke-width="1" />
<text x="184.4" y="395.92" font-size="6.6" text-anchor="end">8</text>
<line x1="187.6" y1="403.98" x2="190" y2="403.98" stroke="#262626" stroke-width="1" />
<text x="184.4" y="406.36" font-size="6.6" text-anchor="end">6</text>
<line x1="187.6" y1="414.42" x2="190" y2="414.42" stroke="#262626" stroke-width="1" />
<text x="184.4" y="416.8" font-size="6.6" text-anchor="end">4</text>
<line x1="187.6" y1="424.86" x2="190" y2="424.86" stroke="#262626" stroke-width="1" />
<text x="184.4" y="427.24" font-size="6.6" text-anchor="end">2</text>
<line x1="187.6" y1="435.3" x2="190" y2="435.3" stroke="#262626" stroke-width="1" />
<text x="184.4" y="437.68" font-size="6.6" text-anchor="end">0</text>
<line x1="190" y1="435.3" x2="228.9" y2="435.3" stroke="#262626" stroke-width="1.5" />
<line x1="201.2" y1="435.3" x2="201.2" y2="438.1" stroke="#262626" stroke-width="1" />
<line x1="215.4" y1="435.3" x2="215.4" y2="438.1" stroke="#262626" stroke-width="1" />
<line x1="201.25" y1="407.2" x2="201.25" y2="398.5" stroke="#111" stroke-width="0.9" />
<line x1="199.05" y1="398.5" x2="203.45" y2="398.5" stroke="#111" stroke-width="0.9" />
<rect x="195.7" y="407.2" width="11.1" height="28.1" fill="#a5062b" />
<line x1="215.45" y1="429" x2="215.45" y2="426.6" stroke="#111" stroke-width="0.9" />
<line x1="213.25" y1="426.6" x2="217.65" y2="426.6" stroke="#111" stroke-width="0.9" />
<rect x="210" y="429" width="10.9" height="6.3" fill="#a5062b" />
<line x1="200.1" y1="382.8" x2="214.9" y2="382.8" stroke="#4a4a4a" stroke-width="1.4" />
<circle cx="206.45" cy="380" r="0.65" fill="#222"/>
<circle cx="208.45" cy="380" r="0.65" fill="#222"/>
<text transform="translate(171.9 426) rotate(-90) scale(0.8 1)" font-size="7.8" fill="#111" class="md">% Ki67<tspan font-size="5" baseline-shift="4">+</tspan> cells</text>
<text transform="translate(204 446.6) rotate(-45) scale(0.9 1)" font-size="7.08" text-anchor="end" fill="#111">IgM ctrl</text>
<text transform="translate(218.2 446.6) rotate(-45) scale(0.9 1)" font-size="7.08" text-anchor="end" fill="#111">anti-CD56</text>
<text x="244.4" y="362.5" font-size="11.5" font-weight="bold" fill="#000">H</text>
<defs><pattern id="bd" width="1.6" height="1.6" patternUnits="userSpaceOnUse"><rect width="1.6" height="1.6" fill="#8da0d0"/><circle cx="0.8" cy="0.8" r="0.45" fill="#4a62a8"/></pattern></defs>
<rect x="261.7" y="372.2" width="6.2" height="6.1" fill="#b5d99c" stroke="#7cb861" stroke-width="0.7" />
<rect x="261.7" y="381.4" width="6.2" height="6.2" fill="url(#bd)" stroke="#5a70b0" stroke-width="0.7" />
<rect x="261.7" y="388.8" width="6.2" height="6.2" fill="#d9889c" stroke="#b5123a" stroke-width="0.7" />
<text transform="translate(270.7 377.6) scale(0.95 1)" font-size="5.6" fill="#111">K562-CD56<tspan font-size="3.4" baseline-shift="1.87">+</tspan></text>
<text transform="translate(270.7 386.3) scale(0.95 1)" font-size="5.6" fill="#111">K562</text>
<text transform="translate(270.7 393.8) scale(0.95 1)" font-size="5.6" fill="#111">Isotype ctrl</text>
<rect x="257.9" y="398.7" width="37.5" height="36.4" fill="none" stroke="#222" stroke-width="0.9" />
<line x1="256.3" y1="401" x2="257.9" y2="401" stroke="#222" stroke-width="0.7" />
<line x1="256.3" y1="405.1" x2="257.9" y2="405.1" stroke="#222" stroke-width="0.7" />
<line x1="256.3" y1="409.2" x2="257.9" y2="409.2" stroke="#222" stroke-width="0.7" />
<line x1="256.3" y1="413.3" x2="257.9" y2="413.3" stroke="#222" stroke-width="0.7" />
<line x1="256.3" y1="417.4" x2="257.9" y2="417.4" stroke="#222" stroke-width="0.7" />
<line x1="256.3" y1="421.5" x2="257.9" y2="421.5" stroke="#222" stroke-width="0.7" />
<line x1="256.3" y1="425.6" x2="257.9" y2="425.6" stroke="#222" stroke-width="0.7" />
<line x1="256.3" y1="429.7" x2="257.9" y2="429.7" stroke="#222" stroke-width="0.7" />
<line x1="256.3" y1="433.8" x2="257.9" y2="433.8" stroke="#222" stroke-width="0.7" />
<line x1="259.5" y1="435.1" x2="259.5" y2="436.7" stroke="#222" stroke-width="0.7" />
<line x1="263.2" y1="435.1" x2="263.2" y2="436.7" stroke="#222" stroke-width="0.7" />
<line x1="266.9" y1="435.1" x2="266.9" y2="436.7" stroke="#222" stroke-width="0.7" />
<line x1="270.6" y1="435.1" x2="270.6" y2="436.7" stroke="#222" stroke-width="0.7" />
<line x1="274.3" y1="435.1" x2="274.3" y2="436.7" stroke="#222" stroke-width="0.7" />
<line x1="278" y1="435.1" x2="278" y2="436.7" stroke="#222" stroke-width="0.7" />
<line x1="281.7" y1="435.1" x2="281.7" y2="436.7" stroke="#222" stroke-width="0.7" />
<line x1="285.4" y1="435.1" x2="285.4" y2="436.7" stroke="#222" stroke-width="0.7" />
<line x1="289.1" y1="435.1" x2="289.1" y2="436.7" stroke="#222" stroke-width="0.7" />
<line x1="292.8" y1="435.1" x2="292.8" y2="436.7" stroke="#222" stroke-width="0.7" />
<path d="M266.6 434.6 L270.2 401.2 L275.8 434.6 Z" fill="url(#bd)" stroke="#4a62a8" stroke-width="0.7" stroke-dasharray="1 0.6"/>
<path d="M266.4 434.6 L270 401.8 L274.2 434.6 Z" fill="#c23a5a" fill-opacity="0.75" stroke="#a5062b" stroke-width="0.6"/>
<path d="M282.4 434.6 L285.6 401.6 L289.4 434.6 Z" fill="#a8d38c" stroke="#6fb052" stroke-width="0.7"/>
<line x1="258.3" y1="434.5" x2="295" y2="434.5" stroke="#7cb861" stroke-width="0.7" />
<text transform="translate(269.5 449.2) scale(0.64 1)" font-size="8.6" fill="#111" class="hv">CD56</text>
<line x1="321.6" y1="400.8" x2="321.6" y2="415" stroke="#111" stroke-width="1" />
<path d="M321.6 397.8 L319.4 402.8 L323.8 402.8 Z" fill="#111"/>
<text transform="translate(323.8 433.3) rotate(-90) scale(0.66 1)" font-size="8" fill="#111" class="hv">FSC-A</text>
<text x="338.6" y="390.4" font-size="8.5" textLength="20.1" lengthAdjust="spacingAndGlyphs">K562</text>
<text transform="translate(374.2 390.5) scale(1.05 1)" font-size="8.6" fill="#111">K562-CD56<tspan font-size="5.2" baseline-shift="3.64">+</tspan></text>
<rect x="330.1" y="395.5" width="40.6" height="40.2" fill="none" stroke="#333" stroke-width="0.8" />
<rect x="376.2" y="395.5" width="40.2" height="40.2" fill="none" stroke="#333" stroke-width="0.8" />
<ellipse cx="342.2" cy="421" rx="5.8" ry="5" fill="#bdbdbd" stroke="#1a1a1a" stroke-width="0.7"/>
<ellipse cx="342.2" cy="421" rx="4.35" ry="3.75" fill="#9a9a9a" stroke="#1a1a1a" stroke-width="0.5"/>
<ellipse cx="342.2" cy="421" rx="2.9" ry="2.5" fill="#b0b0b0" stroke="#1a1a1a" stroke-width="0.5"/>
<ellipse cx="342.2" cy="421" rx="1.45" ry="1.25" fill="#7a7a7a" stroke="#1a1a1a" stroke-width="0.5"/>
<circle cx="342.2" cy="421" r="0.8" fill="#111"/>
<path d="M392 419 C396 417.5 401 418.5 402 421.5 C402.5 424.5 397 426 392 425 Z" fill="#aaa" stroke="#222" stroke-width="0.6"/>
<ellipse cx="389.5" cy="421.2" rx="5.6" ry="5" fill="#bdbdbd" stroke="#1a1a1a" stroke-width="0.7"/>
<ellipse cx="389.5" cy="421.2" rx="4.2" ry="3.75" fill="#9a9a9a" stroke="#1a1a1a" stroke-width="0.5"/>
<ellipse cx="389.5" cy="421.2" rx="2.8" ry="2.5" fill="#b0b0b0" stroke="#1a1a1a" stroke-width="0.5"/>
<ellipse cx="389.5" cy="421.2" rx="1.4" ry="1.25" fill="#7a7a7a" stroke="#1a1a1a" stroke-width="0.5"/>
<circle cx="389.5" cy="421.2" r="0.8" fill="#111"/>
<rect x="348.1" y="416.7" width="14.8" height="10.6" fill="none" stroke="#333" stroke-width="0.9" />
<rect x="394.6" y="416.7" width="14.8" height="10.6" fill="none" stroke="#333" stroke-width="0.9" />
<text x="351.9" y="414.6" font-size="5.4" textLength="6.8" lengthAdjust="spacingAndGlyphs">1.2</text>
<text x="394.6" y="414.6" font-size="5.4" textLength="6.8" lengthAdjust="spacingAndGlyphs">8.3</text>
<text transform="translate(327.3 448.4) scale(0.62 1)" font-size="8.6" fill="#111" class="hv">Ki67</text>
<line x1="341.7" y1="445" x2="414.1" y2="445" stroke="#111" stroke-width="1" />
<path d="M417.1 445 L412.1 442.8 L412.1 447.2 Z" fill="#111"/>
<line x1="469.1" y1="393.5" x2="469.1" y2="435.95" stroke="#262626" stroke-width="1.5" />
<line x1="466.7" y1="396.8" x2="469.1" y2="396.8" stroke="#262626" stroke-width="1" />
<text x="463.5" y="399.18" font-size="6.6" text-anchor="end">10</text>
<line x1="466.7" y1="404.48" x2="469.1" y2="404.48" stroke="#262626" stroke-width="1" />
<text x="463.5" y="406.86" font-size="6.6" text-anchor="end">8</text>
<line x1="466.7" y1="412.16" x2="469.1" y2="412.16" stroke="#262626" stroke-width="1" />
<text x="463.5" y="414.54" font-size="6.6" text-anchor="end">6</text>
<line x1="466.7" y1="419.84" x2="469.1" y2="419.84" stroke="#262626" stroke-width="1" />
<text x="463.5" y="422.22" font-size="6.6" text-anchor="end">4</text>
<line x1="466.7" y1="427.52" x2="469.1" y2="427.52" stroke="#262626" stroke-width="1" />
<text x="463.5" y="429.9" font-size="6.6" text-anchor="end">2</text>
<line x1="466.7" y1="435.2" x2="469.1" y2="435.2" stroke="#262626" stroke-width="1" />
<text x="463.5" y="437.58" font-size="6.6" text-anchor="end">0</text>
<line x1="469.1" y1="435.2" x2="506.8" y2="435.2" stroke="#262626" stroke-width="1.5" />
<line x1="479.05" y1="435.2" x2="479.05" y2="438" stroke="#262626" stroke-width="1" />
<line x1="492.7" y1="435.2" x2="492.7" y2="438" stroke="#262626" stroke-width="1" />
<line x1="479.05" y1="430.8" x2="479.05" y2="425.8" stroke="#111" stroke-width="0.9" />
<line x1="476.85" y1="425.8" x2="481.25" y2="425.8" stroke="#111" stroke-width="0.9" />
<rect x="474.1" y="430.8" width="9.9" height="4.4" fill="#a5062b" />
<line x1="492.7" y1="403" x2="492.7" y2="399.7" stroke="#111" stroke-width="0.9" />
<line x1="490.5" y1="399.7" x2="494.9" y2="399.7" stroke="#111" stroke-width="0.9" />
<rect x="487.7" y="403" width="10" height="32.2" fill="#a5062b" />
<line x1="476.5" y1="393.8" x2="493.4" y2="393.8" stroke="#4a4a4a" stroke-width="1.4" />
<circle cx="483.2" cy="390.7" r="0.65" fill="#222"/>
<circle cx="485.2" cy="390.7" r="0.65" fill="#222"/>
<text transform="translate(451.8 432) rotate(-90) scale(0.78 1)" font-size="7.8" fill="#111" class="md">% Ki67<tspan font-size="5" baseline-shift="4">+</tspan> cells</text>
<text transform="translate(481.85 446.5) rotate(-45) scale(0.9 1)" font-size="7.08" text-anchor="end" fill="#111">K562</text>
<text transform="translate(495.5 446.5) rotate(-45) scale(0.9 1)" font-size="7.08" text-anchor="end" fill="#111">K562 CD56<tspan font-size="3.6" baseline-shift="1.98">+</tspan></text>
<rect x="0" y="0" width="520" height="1.35" fill="#000"/>
<rect x="0" y="0" width="1.45" height="479" fill="#000"/>
<rect x="518.55" y="0" width="1.45" height="479" fill="#000"/>
<rect x="0" y="477.45" width="520" height="1.55" fill="#000"/>
</svg></body></html>
